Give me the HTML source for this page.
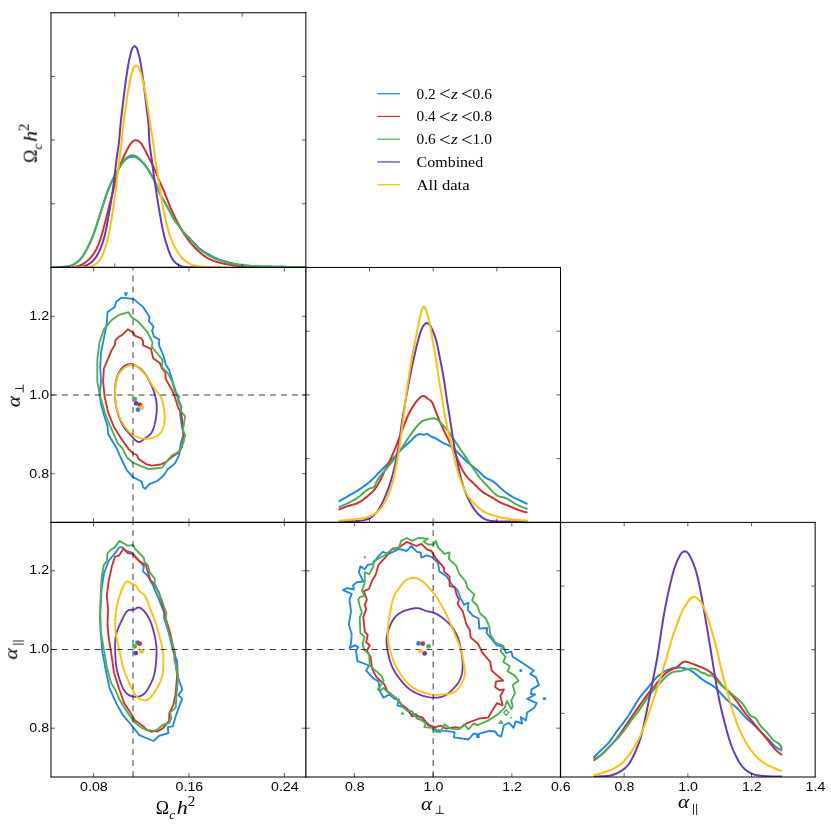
<!DOCTYPE html>
<html lang="en">
<head>
<meta charset="utf-8">
<title>Triangle plot</title>
<style>
html,body{margin:0;padding:0;background:#ffffff;}
body{width:831px;height:827px;overflow:hidden;font-family:"Liberation Sans",sans-serif;}
svg{display:block;will-change:transform;}
svg text{will-change:transform;}
</style>
</head>
<body>
<svg width="831" height="827" viewBox="0 0 831 827">
<rect x="0" y="0" width="831" height="827" fill="#ffffff"/>
<defs>
<clipPath id="cp00"><rect x="51" y="12.75" width="254.85" height="254.7"/></clipPath>
<clipPath id="cp10"><rect x="51" y="267.45" width="254.85" height="254.95"/></clipPath>
<clipPath id="cp11"><rect x="305.85" y="267.45" width="254.65" height="254.95"/></clipPath>
<clipPath id="cp20"><rect x="51" y="522.4" width="254.85" height="254.6"/></clipPath>
<clipPath id="cp21"><rect x="305.85" y="522.4" width="254.65" height="254.6"/></clipPath>
<clipPath id="cp22"><rect x="560.5" y="522.4" width="254.65" height="254.6"/></clipPath>
</defs>
<g clip-path="url(#cp00)" fill="none" stroke-width="2.0" stroke-linejoin="round" stroke-linecap="butt">
<path d="M52 267.4 L53.5 267.31 L55.01 267.22 L56.52 267.14 L58.03 267.06 L59.55 267 L61.07 266.96 L62.6 266.92 L64.13 266.85 L65.65 266.74 L67.15 266.58 L68.64 266.33 L70.1 265.98 L71.53 265.51 L72.92 264.92 L74.27 264.22 L75.57 263.41 L76.81 262.52 L78 261.55 L79.11 260.51 L80.16 259.41 L81.14 258.26 L82.07 257.06 L82.95 255.83 L83.78 254.56 L84.57 253.26 L85.34 251.94 L86.07 250.61 L86.79 249.26 L87.49 247.92 L88.17 246.56 L88.84 245.2 L89.49 243.83 L90.12 242.46 L90.74 241.08 L91.34 239.69 L91.92 238.3 L92.49 236.9 L93.04 235.5 L93.58 234.09 L94.1 232.67 L94.61 231.25 L95.1 229.82 L95.58 228.39 L96.06 226.95 L96.52 225.51 L96.98 224.07 L97.44 222.63 L97.89 221.18 L98.34 219.74 L98.8 218.29 L99.25 216.85 L99.7 215.41 L100.16 213.97 L100.62 212.53 L101.08 211.09 L101.54 209.65 L102 208.21 L102.46 206.77 L102.92 205.33 L103.38 203.89 L103.84 202.45 L104.31 201.01 L104.77 199.57 L105.24 198.13 L105.72 196.69 L106.2 195.26 L106.69 193.83 L107.2 192.41 L107.72 190.99 L108.25 189.57 L108.81 188.17 L109.38 186.77 L109.97 185.38 L110.58 183.99 L111.22 182.62 L111.86 181.25 L112.53 179.89 L113.21 178.54 L113.91 177.2 L114.62 175.86 L115.34 174.53 L116.07 173.21 L116.82 171.89 L117.57 170.58 L118.34 169.28 L119.12 167.99 L119.93 166.71 L120.75 165.44 L121.6 164.18 L122.49 162.95 L123.42 161.75 L124.42 160.61 L125.51 159.56 L126.69 158.6 L127.97 157.79 L129.35 157.16 L130.81 156.76 L132.32 156.58 L133.84 156.63 L135.31 156.96 L136.68 157.58 L137.96 158.41 L139.18 159.35 L140.34 160.35 L141.45 161.37 L142.52 162.44 L143.54 163.54 L144.53 164.68 L145.47 165.86 L146.38 167.06 L147.26 168.3 L148.12 169.55 L148.94 170.83 L149.74 172.12 L150.52 173.42 L151.27 174.73 L152.01 176.05 L152.72 177.39 L153.41 178.74 L154.08 180.09 L154.73 181.46 L155.36 182.84 L155.97 184.22 L156.56 185.61 L157.13 187.02 L157.68 188.43 L158.23 189.84 L158.79 191.24 L159.39 192.63 L160.02 194 L160.71 195.34 L161.43 196.67 L162.18 197.98 L162.94 199.29 L163.72 200.59 L164.5 201.89 L165.27 203.19 L166.03 204.5 L166.78 205.82 L167.51 207.14 L168.23 208.47 L168.94 209.8 L169.63 211.15 L170.33 212.49 L171.02 213.84 L171.73 215.18 L172.46 216.5 L173.21 217.81 L174.01 219.09 L174.85 220.34 L175.72 221.58 L176.61 222.8 L177.51 224.02 L178.41 225.23 L179.31 226.46 L180.19 227.69 L181.09 228.91 L182 230.12 L182.93 231.31 L183.91 232.45 L184.94 233.56 L186.01 234.62 L187.1 235.68 L188.18 236.73 L189.24 237.82 L190.28 238.92 L191.29 240.05 L192.3 241.18 L193.31 242.32 L194.32 243.44 L195.35 244.55 L196.4 245.63 L197.48 246.67 L198.6 247.68 L199.77 248.63 L200.97 249.55 L202.2 250.42 L203.46 251.27 L204.74 252.08 L206.04 252.87 L207.35 253.65 L208.67 254.41 L209.99 255.15 L211.32 255.87 L212.66 256.58 L214.01 257.26 L215.37 257.9 L216.75 258.52 L218.14 259.1 L219.55 259.64 L220.98 260.15 L222.41 260.63 L223.86 261.08 L225.31 261.51 L226.77 261.92 L228.23 262.31 L229.7 262.68 L231.17 263.03 L232.64 263.37 L234.12 263.68 L235.6 263.98 L237.09 264.27 L238.58 264.53 L240.07 264.78 L241.56 265.01 L243.06 265.22 L244.56 265.41 L246.07 265.58 L247.57 265.73 L249.07 265.86 L250.58 265.97 L252.09 266.07 L253.6 266.15 L255.11 266.22 L256.62 266.28 L258.13 266.33 L259.65 266.38 L261.16 266.41 L262.67 266.45 L264.18 266.47 L265.7 266.5 L267.21 266.53 L268.72 266.56 L270.24 266.58 L271.75 266.61 L273.26 266.64 L274.77 266.66 L276.29 266.69 L277.8 266.72 L279.31 266.74 L280.82 266.77 L282.33 266.8 L283.84 266.83 L285.36 266.85 L286.87 266.88 L288.38 266.91 L289.89 266.93 L291.4 266.96 L292.91 266.99 L294.42 267.01 L295.93 267.04 L297.45 267.07 L298.96 267.09 L300.47 267.12 L301.98 267.15 L303.49 267.17 L305 267.2" stroke="#1E88E5"/>
<path d="M56 267.4 L57.5 267.35 L59 267.29 L60.51 267.24 L62.01 267.19 L63.52 267.14 L65.03 267.09 L66.54 267.04 L68.06 267 L69.59 266.95 L71.11 266.89 L72.63 266.8 L74.14 266.67 L75.63 266.47 L77.11 266.19 L78.56 265.81 L79.98 265.33 L81.37 264.74 L82.73 264.06 L84.05 263.3 L85.32 262.45 L86.54 261.54 L87.71 260.56 L88.83 259.53 L89.9 258.45 L90.92 257.32 L91.88 256.15 L92.8 254.95 L93.67 253.7 L94.5 252.43 L95.27 251.13 L96.01 249.8 L96.7 248.46 L97.34 247.09 L97.96 245.71 L98.54 244.32 L99.08 242.91 L99.6 241.49 L100.1 240.07 L100.57 238.63 L101.03 237.19 L101.47 235.74 L101.9 234.29 L102.32 232.84 L102.74 231.38 L103.14 229.93 L103.54 228.47 L103.93 227.02 L104.32 225.56 L104.7 224.1 L105.08 222.64 L105.45 221.18 L105.82 219.72 L106.19 218.25 L106.55 216.79 L106.91 215.33 L107.27 213.86 L107.63 212.4 L107.99 210.93 L108.35 209.47 L108.72 208 L109.08 206.54 L109.45 205.07 L109.82 203.61 L110.19 202.15 L110.57 200.69 L110.95 199.23 L111.33 197.77 L111.71 196.31 L112.09 194.85 L112.47 193.39 L112.84 191.93 L113.21 190.46 L113.57 189 L113.92 187.53 L114.27 186.06 L114.6 184.59 L114.93 183.11 L115.27 181.64 L115.6 180.17 L115.95 178.7 L116.3 177.23 L116.67 175.77 L117.06 174.31 L117.46 172.86 L117.9 171.42 L118.35 169.98 L118.84 168.55 L119.35 167.13 L119.88 165.72 L120.43 164.31 L121 162.91 L121.59 161.52 L122.19 160.13 L122.8 158.75 L123.43 157.38 L124.06 156.01 L124.7 154.64 L125.35 153.28 L126.01 151.93 L126.68 150.58 L127.38 149.25 L128.1 147.92 L128.85 146.6 L129.63 145.29 L130.45 144.01 L131.37 142.81 L132.44 141.74 L133.7 140.86 L135.13 140.3 L136.62 140.25 L138.07 140.74 L139.37 141.58 L140.47 142.62 L141.41 143.8 L142.24 145.08 L143.02 146.39 L143.76 147.71 L144.47 149.04 L145.16 150.38 L145.83 151.73 L146.5 153.08 L147.17 154.43 L147.84 155.78 L148.52 157.12 L149.22 158.46 L149.92 159.8 L150.62 161.13 L151.32 162.47 L152.01 163.81 L152.7 165.16 L153.37 166.51 L154.02 167.87 L154.66 169.24 L155.27 170.62 L155.85 172.01 L156.41 173.41 L156.95 174.82 L157.48 176.23 L158.01 177.65 L158.55 179.05 L159.12 180.45 L159.71 181.84 L160.33 183.22 L160.97 184.58 L161.61 185.95 L162.25 187.31 L162.87 188.69 L163.47 190.07 L164.06 191.46 L164.63 192.86 L165.19 194.26 L165.75 195.66 L166.3 197.07 L166.84 198.48 L167.39 199.88 L167.94 201.29 L168.49 202.69 L169.05 204.09 L169.62 205.49 L170.21 206.88 L170.8 208.27 L171.41 209.65 L172.02 211.02 L172.65 212.4 L173.29 213.76 L173.93 215.13 L174.59 216.49 L175.25 217.84 L175.93 219.19 L176.61 220.54 L177.3 221.88 L178.01 223.22 L178.72 224.56 L179.43 225.89 L180.16 227.21 L180.9 228.54 L181.65 229.85 L182.41 231.16 L183.19 232.45 L183.98 233.74 L184.79 235.01 L185.62 236.27 L186.47 237.52 L187.35 238.74 L188.24 239.96 L189.16 241.15 L190.1 242.33 L191.07 243.48 L192.06 244.62 L193.07 245.74 L194.1 246.85 L195.15 247.93 L196.22 249 L197.31 250.06 L198.41 251.1 L199.54 252.12 L200.68 253.12 L201.84 254.09 L203.03 255.03 L204.24 255.93 L205.49 256.78 L206.76 257.59 L208.06 258.34 L209.4 259.04 L210.76 259.68 L212.15 260.28 L213.56 260.82 L214.99 261.33 L216.43 261.8 L217.88 262.24 L219.33 262.65 L220.79 263.03 L222.26 263.39 L223.73 263.72 L225.21 264.03 L226.69 264.32 L228.17 264.59 L229.66 264.85 L231.15 265.09 L232.64 265.3 L234.14 265.5 L235.64 265.68 L237.14 265.85 L238.64 265.99 L240.14 266.11 L241.65 266.23 L243.15 266.33 L244.66 266.41 L246.17 266.49 L247.67 266.57 L249.18 266.63 L250.69 266.69 L252.2 266.75 L253.71 266.79 L255.21 266.84 L256.72 266.88 L258.23 266.91 L259.74 266.95 L261.25 266.98 L262.76 267 L264.26 267.03 L265.77 267.05 L267.28 267.07 L268.79 267.09 L270.3 267.1 L271.81 267.12 L273.32 267.14 L274.83 267.15 L276.34 267.17 L277.84 267.18 L279.35 267.2 L280.86 267.21 L282.37 267.23 L283.88 267.24 L285.39 267.25 L286.9 267.26 L288.4 267.28 L289.91 267.29 L291.42 267.3 L292.93 267.31 L294.44 267.32 L295.95 267.34 L297.46 267.35 L298.97 267.36 L300.47 267.37 L301.98 267.38 L303.49 267.39 L305 267.4" stroke="#D32F2F"/>
<path d="M52 267.4 L53.5 267.31 L55 267.22 L56.5 267.14 L58.01 267.06 L59.53 267.01 L61.05 266.96 L62.58 266.92 L64.1 266.85 L65.61 266.75 L67.12 266.58 L68.6 266.34 L70.05 265.99 L71.48 265.53 L72.87 264.94 L74.22 264.24 L75.52 263.45 L76.76 262.56 L77.95 261.59 L79.06 260.56 L80.11 259.46 L81.09 258.32 L82.02 257.13 L82.9 255.9 L83.73 254.63 L84.53 253.34 L85.29 252.03 L86.02 250.7 L86.74 249.36 L87.44 248.01 L88.12 246.66 L88.79 245.3 L89.44 243.94 L90.07 242.57 L90.69 241.2 L91.29 239.81 L91.87 238.43 L92.44 237.03 L92.99 235.63 L93.53 234.22 L94.05 232.81 L94.56 231.39 L95.05 229.97 L95.53 228.54 L96 227.11 L96.47 225.67 L96.93 224.23 L97.39 222.79 L97.84 221.35 L98.29 219.91 L98.74 218.47 L99.19 217.04 L99.65 215.6 L100.1 214.16 L100.56 212.72 L101.02 211.29 L101.48 209.85 L101.94 208.41 L102.39 206.98 L102.85 205.54 L103.31 204.1 L103.77 202.67 L104.23 201.23 L104.7 199.79 L105.16 198.36 L105.63 196.92 L106.11 195.49 L106.6 194.06 L107.11 192.64 L107.62 191.23 L108.15 189.82 L108.71 188.41 L109.28 187.02 L109.87 185.63 L110.48 184.25 L111.11 182.88 L111.76 181.52 L112.43 180.17 L113.1 178.82 L113.8 177.48 L114.5 176.14 L115.22 174.81 L115.94 173.49 L116.67 172.17 L117.41 170.85 L118.15 169.54 L118.91 168.23 L119.68 166.94 L120.46 165.65 L121.26 164.37 L122.09 163.1 L122.95 161.86 L123.86 160.66 L124.83 159.5 L125.88 158.41 L127.02 157.4 L128.27 156.53 L129.61 155.85 L131.06 155.43 L132.57 155.28 L134.08 155.44 L135.51 155.91 L136.81 156.66 L138.01 157.6 L139.15 158.64 L140.24 159.7 L141.3 160.78 L142.32 161.88 L143.31 163.01 L144.26 164.17 L145.19 165.35 L146.09 166.56 L146.96 167.8 L147.8 169.05 L148.63 170.32 L149.43 171.6 L150.2 172.9 L150.96 174.21 L151.7 175.53 L152.42 176.85 L153.12 178.19 L153.79 179.54 L154.45 180.9 L155.09 182.27 L155.71 183.64 L156.31 185.03 L156.89 186.42 L157.45 187.83 L158 189.23 L158.55 190.64 L159.13 192.03 L159.74 193.4 L160.4 194.75 L161.11 196.09 L161.84 197.4 L162.6 198.71 L163.37 200.01 L164.15 201.3 L164.92 202.6 L165.69 203.9 L166.44 205.21 L167.17 206.53 L167.9 207.85 L168.61 209.18 L169.31 210.52 L170 211.86 L170.69 213.2 L171.39 214.54 L172.1 215.87 L172.84 217.18 L173.62 218.47 L174.44 219.73 L175.3 220.97 L176.18 222.2 L177.07 223.41 L177.97 224.63 L178.86 225.85 L179.74 227.08 L180.61 228.32 L181.48 229.55 L182.38 230.76 L183.31 231.95 L184.28 233.09 L185.31 234.19 L186.37 235.26 L187.44 236.33 L188.5 237.4 L189.54 238.5 L190.55 239.63 L191.55 240.77 L192.53 241.91 L193.52 243.06 L194.51 244.19 L195.53 245.31 L196.56 246.4 L197.63 247.46 L198.73 248.48 L199.88 249.45 L201.06 250.38 L202.28 251.27 L203.52 252.13 L204.79 252.96 L206.08 253.77 L207.38 254.55 L208.68 255.31 L210 256.06 L211.33 256.78 L212.67 257.47 L214.03 258.14 L215.4 258.76 L216.78 259.35 L218.18 259.9 L219.6 260.4 L221.04 260.87 L222.48 261.31 L223.94 261.71 L225.4 262.09 L226.87 262.45 L228.34 262.79 L229.82 263.11 L231.29 263.42 L232.77 263.71 L234.26 263.98 L235.74 264.24 L237.23 264.48 L238.72 264.71 L240.22 264.92 L241.71 265.11 L243.21 265.29 L244.71 265.45 L246.21 265.59 L247.71 265.72 L249.22 265.84 L250.72 265.94 L252.23 266.03 L253.73 266.11 L255.24 266.18 L256.75 266.25 L258.25 266.3 L259.76 266.35 L261.27 266.39 L262.78 266.43 L264.29 266.47 L265.8 266.5 L267.3 266.54 L268.81 266.57 L270.32 266.6 L271.83 266.63 L273.34 266.67 L274.84 266.7 L276.35 266.72 L277.86 266.75 L279.37 266.78 L280.88 266.81 L282.38 266.84 L283.89 266.86 L285.4 266.89 L286.91 266.91 L288.42 266.94 L289.92 266.96 L291.43 266.99 L292.94 267.01 L294.45 267.04 L295.95 267.06 L297.46 267.08 L298.97 267.11 L300.48 267.13 L301.98 267.15 L303.49 267.18 L305 267.2" stroke="#4CAF50"/>
<path d="M60 267.4 L61.5 267.36 L63 267.32 L64.5 267.28 L66 267.24 L67.5 267.2 L69 267.16 L70.51 267.12 L72.02 267.08 L73.54 267.04 L75.06 267 L76.58 266.95 L78.1 266.89 L79.61 266.79 L81.11 266.63 L82.6 266.39 L84.06 266.05 L85.49 265.6 L86.88 265.02 L88.24 264.34 L89.54 263.54 L90.78 262.66 L91.96 261.69 L93.06 260.64 L94.08 259.53 L95.04 258.37 L95.93 257.14 L96.75 255.88 L97.53 254.57 L98.25 253.24 L98.93 251.88 L99.58 250.5 L100.19 249.11 L100.77 247.71 L101.32 246.3 L101.85 244.89 L102.35 243.47 L102.83 242.04 L103.28 240.6 L103.71 239.16 L104.12 237.71 L104.51 236.26 L104.88 234.8 L105.23 233.34 L105.56 231.87 L105.89 230.4 L106.19 228.92 L106.49 227.45 L106.77 225.97 L107.05 224.49 L107.32 223 L107.59 221.52 L107.85 220.04 L108.11 218.55 L108.37 217.07 L108.63 215.58 L108.89 214.1 L109.14 212.62 L109.4 211.13 L109.66 209.65 L109.91 208.16 L110.16 206.68 L110.42 205.2 L110.66 203.71 L110.91 202.22 L111.16 200.74 L111.4 199.25 L111.64 197.77 L111.87 196.28 L112.1 194.79 L112.33 193.3 L112.55 191.81 L112.77 190.32 L112.98 188.83 L113.18 187.34 L113.38 185.84 L113.57 184.35 L113.76 182.86 L113.94 181.36 L114.12 179.86 L114.29 178.37 L114.47 176.87 L114.64 175.38 L114.81 173.88 L114.99 172.38 L115.16 170.89 L115.34 169.39 L115.52 167.9 L115.7 166.4 L115.88 164.91 L116.07 163.41 L116.26 161.92 L116.46 160.43 L116.66 158.93 L116.86 157.44 L117.07 155.95 L117.28 154.46 L117.49 152.97 L117.7 151.48 L117.92 149.98 L118.13 148.49 L118.34 147 L118.54 145.51 L118.73 144.01 L118.92 142.52 L119.09 141.02 L119.25 139.53 L119.39 138.03 L119.53 136.53 L119.66 135.03 L119.78 133.53 L119.89 132.03 L120.01 130.52 L120.13 129.02 L120.25 127.52 L120.38 126.02 L120.51 124.52 L120.66 123.02 L120.81 121.52 L120.98 120.03 L121.15 118.53 L121.32 117.03 L121.5 115.54 L121.68 114.04 L121.87 112.55 L122.05 111.05 L122.23 109.56 L122.41 108.06 L122.59 106.57 L122.77 105.07 L122.95 103.58 L123.12 102.08 L123.3 100.59 L123.48 99.09 L123.66 97.59 L123.84 96.1 L124.02 94.61 L124.2 93.11 L124.39 91.62 L124.58 90.12 L124.77 88.63 L124.96 87.14 L125.16 85.64 L125.36 84.15 L125.56 82.66 L125.77 81.16 L125.98 79.67 L126.19 78.18 L126.41 76.69 L126.63 75.2 L126.85 73.71 L127.08 72.22 L127.31 70.73 L127.54 69.24 L127.78 67.76 L128.03 66.28 L128.28 64.8 L128.54 63.32 L128.81 61.84 L129.1 60.36 L129.42 58.88 L129.75 57.4 L130.1 55.91 L130.48 54.43 L130.87 52.98 L131.26 51.55 L131.67 50.16 L132.19 48.79 L132.97 47.38 L134.09 46.17 L135.33 46.27 L136.4 47.55 L137.14 48.96 L137.62 50.33 L138.02 51.73 L138.41 53.16 L138.79 54.62 L139.15 56.1 L139.5 57.59 L139.82 59.08 L140.12 60.56 L140.41 62.04 L140.68 63.52 L140.93 65 L141.18 66.48 L141.41 67.96 L141.65 69.45 L141.88 70.93 L142.1 72.42 L142.32 73.91 L142.54 75.4 L142.76 76.89 L142.97 78.39 L143.18 79.88 L143.38 81.37 L143.58 82.87 L143.78 84.36 L143.98 85.85 L144.17 87.35 L144.36 88.84 L144.55 90.33 L144.73 91.83 L144.92 93.32 L145.09 94.82 L145.27 96.31 L145.44 97.81 L145.62 99.3 L145.79 100.8 L145.96 102.3 L146.13 103.79 L146.31 105.29 L146.48 106.78 L146.66 108.28 L146.84 109.78 L147.03 111.27 L147.22 112.77 L147.41 114.26 L147.6 115.76 L147.78 117.25 L147.96 118.75 L148.12 120.24 L148.27 121.74 L148.41 123.24 L148.53 124.74 L148.63 126.24 L148.72 127.75 L148.79 129.25 L148.85 130.76 L148.91 132.26 L148.97 133.77 L149.03 135.27 L149.1 136.78 L149.18 138.28 L149.28 139.78 L149.4 141.28 L149.54 142.78 L149.7 144.28 L149.87 145.78 L150.05 147.27 L150.24 148.76 L150.44 150.26 L150.65 151.75 L150.86 153.24 L151.07 154.74 L151.27 156.23 L151.48 157.72 L151.68 159.22 L151.88 160.71 L152.07 162.2 L152.27 163.69 L152.47 165.19 L152.66 166.68 L152.86 168.17 L153.06 169.66 L153.27 171.16 L153.47 172.65 L153.68 174.14 L153.9 175.63 L154.11 177.12 L154.33 178.61 L154.55 180.1 L154.77 181.59 L154.99 183.08 L155.21 184.57 L155.43 186.06 L155.65 187.55 L155.87 189.04 L156.1 190.53 L156.32 192.02 L156.54 193.51 L156.77 195 L156.99 196.49 L157.22 197.98 L157.45 199.46 L157.69 200.95 L157.93 202.44 L158.17 203.92 L158.41 205.41 L158.66 206.89 L158.91 208.38 L159.17 209.86 L159.43 211.34 L159.68 212.83 L159.94 214.31 L160.21 215.8 L160.47 217.28 L160.73 218.77 L160.99 220.25 L161.25 221.74 L161.52 223.22 L161.79 224.71 L162.07 226.19 L162.36 227.67 L162.65 229.14 L162.96 230.62 L163.28 232.09 L163.62 233.55 L163.97 235.01 L164.34 236.46 L164.73 237.91 L165.13 239.35 L165.55 240.79 L165.98 242.23 L166.42 243.67 L166.87 245.11 L167.34 246.55 L167.82 247.99 L168.3 249.43 L168.8 250.87 L169.31 252.31 L169.85 253.75 L170.43 255.16 L171.07 256.54 L171.76 257.87 L172.53 259.16 L173.39 260.4 L174.35 261.56 L175.42 262.64 L176.58 263.63 L177.83 264.51 L179.14 265.27 L180.52 265.89 L181.95 266.37 L183.41 266.7 L184.9 266.93 L186.41 267.07 L187.93 267.14 L189.45 267.19 L190.97 267.22 L192.49 267.25 L194 267.28 L195.5 267.31 L197 267.34 L198.5 267.37 L200 267.4" stroke="#673AB7"/>
<path d="M70 267.4 L71.5 267.35 L72.99 267.31 L74.49 267.26 L75.99 267.22 L77.5 267.17 L79 267.13 L80.52 267.09 L82.04 267.05 L83.57 267.01 L85.11 266.97 L86.64 266.91 L88.17 266.8 L89.67 266.61 L91.14 266.3 L92.56 265.85 L93.93 265.24 L95.23 264.46 L96.45 263.55 L97.6 262.52 L98.65 261.41 L99.61 260.22 L100.48 258.98 L101.26 257.68 L101.96 256.34 L102.61 254.97 L103.2 253.57 L103.74 252.15 L104.25 250.72 L104.74 249.28 L105.21 247.83 L105.67 246.39 L106.1 244.94 L106.52 243.49 L106.93 242.04 L107.31 240.58 L107.69 239.12 L108.04 237.66 L108.38 236.19 L108.71 234.72 L109.02 233.25 L109.32 231.77 L109.61 230.29 L109.89 228.81 L110.15 227.32 L110.41 225.83 L110.67 224.34 L110.91 222.85 L111.16 221.36 L111.4 219.87 L111.64 218.38 L111.87 216.89 L112.11 215.4 L112.35 213.91 L112.58 212.42 L112.81 210.93 L113.04 209.43 L113.27 207.94 L113.49 206.45 L113.71 204.96 L113.92 203.46 L114.13 201.97 L114.33 200.48 L114.53 198.98 L114.73 197.48 L114.92 195.99 L115.11 194.49 L115.29 192.99 L115.48 191.49 L115.66 190 L115.84 188.5 L116.02 187 L116.21 185.5 L116.39 184 L116.57 182.5 L116.75 181.01 L116.93 179.51 L117.11 178.01 L117.29 176.51 L117.47 175.01 L117.65 173.51 L117.83 172.02 L118 170.52 L118.18 169.02 L118.36 167.52 L118.53 166.02 L118.71 164.52 L118.89 163.02 L119.07 161.53 L119.26 160.03 L119.44 158.53 L119.63 157.03 L119.82 155.54 L120.02 154.04 L120.21 152.54 L120.41 151.05 L120.61 149.55 L120.81 148.06 L121.01 146.56 L121.2 145.06 L121.38 143.56 L121.56 142.07 L121.74 140.57 L121.9 139.07 L122.06 137.57 L122.21 136.06 L122.35 134.56 L122.5 133.06 L122.64 131.56 L122.78 130.06 L122.93 128.55 L123.08 127.05 L123.24 125.55 L123.41 124.05 L123.58 122.55 L123.77 121.06 L123.96 119.56 L124.16 118.06 L124.36 116.57 L124.57 115.07 L124.78 113.58 L124.99 112.08 L125.2 110.59 L125.41 109.09 L125.62 107.6 L125.84 106.11 L126.05 104.61 L126.26 103.12 L126.48 101.63 L126.7 100.13 L126.92 98.64 L127.14 97.15 L127.37 95.66 L127.61 94.16 L127.85 92.67 L128.09 91.18 L128.34 89.7 L128.6 88.21 L128.86 86.72 L129.13 85.24 L129.41 83.76 L129.69 82.27 L129.99 80.79 L130.29 79.32 L130.61 77.84 L130.95 76.37 L131.32 74.91 L131.71 73.45 L132.14 71.99 L132.6 70.56 L133.12 69.14 L133.7 67.75 L134.44 66.44 L135.62 65.42 L137.03 65.61 L138.15 66.71 L138.9 68 L139.53 69.36 L140.09 70.76 L140.6 72.19 L141.06 73.64 L141.49 75.09 L141.9 76.54 L142.27 78 L142.63 79.47 L142.96 80.94 L143.29 82.41 L143.61 83.89 L143.91 85.36 L144.21 86.84 L144.5 88.32 L144.79 89.8 L145.07 91.29 L145.34 92.77 L145.61 94.26 L145.87 95.75 L146.13 97.23 L146.38 98.72 L146.64 100.21 L146.88 101.7 L147.13 103.19 L147.37 104.68 L147.6 106.17 L147.83 107.66 L148.06 109.15 L148.28 110.64 L148.5 112.13 L148.72 113.63 L148.94 115.12 L149.15 116.61 L149.37 118.11 L149.59 119.6 L149.81 121.09 L150.03 122.59 L150.26 124.08 L150.5 125.57 L150.74 127.06 L150.98 128.55 L151.22 130.04 L151.47 131.53 L151.72 133.02 L151.96 134.51 L152.2 136 L152.43 137.49 L152.65 138.98 L152.87 140.47 L153.07 141.97 L153.27 143.46 L153.46 144.96 L153.64 146.46 L153.83 147.96 L154.01 149.45 L154.19 150.95 L154.38 152.45 L154.57 153.95 L154.77 155.44 L154.97 156.94 L155.18 158.43 L155.4 159.93 L155.63 161.42 L155.86 162.91 L156.09 164.4 L156.33 165.89 L156.56 167.38 L156.8 168.87 L157.04 170.36 L157.27 171.85 L157.5 173.34 L157.73 174.84 L157.96 176.33 L158.18 177.82 L158.41 179.31 L158.63 180.8 L158.86 182.3 L159.08 183.79 L159.31 185.28 L159.53 186.77 L159.76 188.27 L159.99 189.76 L160.23 191.25 L160.47 192.74 L160.71 194.23 L160.95 195.72 L161.2 197.21 L161.45 198.69 L161.71 200.18 L161.98 201.67 L162.25 203.15 L162.52 204.63 L162.81 206.12 L163.09 207.6 L163.39 209.08 L163.69 210.56 L163.99 212.03 L164.3 213.51 L164.61 214.99 L164.93 216.46 L165.25 217.94 L165.58 219.41 L165.91 220.89 L166.25 222.36 L166.59 223.83 L166.95 225.3 L167.32 226.76 L167.7 228.22 L168.1 229.68 L168.51 231.13 L168.95 232.57 L169.41 234.01 L169.89 235.44 L170.39 236.87 L170.92 238.28 L171.47 239.69 L172.05 241.09 L172.65 242.47 L173.28 243.85 L173.93 245.21 L174.61 246.56 L175.32 247.9 L176.05 249.22 L176.81 250.53 L177.6 251.82 L178.43 253.09 L179.28 254.34 L180.18 255.55 L181.13 256.73 L182.12 257.87 L183.16 258.97 L184.26 260.02 L185.42 261 L186.62 261.92 L187.89 262.74 L189.21 263.48 L190.58 264.11 L191.99 264.66 L193.43 265.12 L194.9 265.51 L196.38 265.84 L197.87 266.1 L199.37 266.32 L200.87 266.48 L202.37 266.62 L203.88 266.72 L205.39 266.8 L206.9 266.87 L208.41 266.92 L209.92 266.98 L211.43 267.03 L212.94 267.08 L214.44 267.12 L215.95 267.17 L217.46 267.21 L218.97 267.25 L220.48 267.29 L221.98 267.32 L223.49 267.36 L225 267.4" stroke="#FFC107"/>
</g>
<g clip-path="url(#cp11)" fill="none" stroke-width="2.0" stroke-linejoin="round" stroke-linecap="butt">
<path d="M338.6 501.6 L339.83 500.88 L341.05 500.16 L342.28 499.44 L343.5 498.72 L344.73 498.01 L345.96 497.3 L347.19 496.58 L348.42 495.88 L349.65 495.17 L350.89 494.47 L352.12 493.76 L353.35 493.05 L354.58 492.34 L355.8 491.62 L357.02 490.89 L358.23 490.14 L359.44 489.38 L360.63 488.6 L361.81 487.81 L362.98 487 L364.14 486.17 L365.28 485.33 L366.41 484.46 L367.53 483.58 L368.63 482.68 L369.71 481.76 L370.77 480.81 L371.82 479.85 L372.85 478.87 L373.86 477.88 L374.87 476.87 L375.86 475.86 L376.85 474.84 L377.84 473.82 L378.83 472.8 L379.83 471.78 L380.82 470.77 L381.83 469.77 L382.84 468.77 L383.86 467.78 L384.87 466.79 L385.89 465.8 L386.9 464.8 L387.92 463.81 L388.93 462.81 L389.93 461.8 L390.92 460.78 L391.91 459.76 L392.88 458.72 L393.85 457.67 L394.8 456.61 L395.75 455.54 L396.7 454.47 L397.64 453.41 L398.6 452.35 L399.56 451.31 L400.53 450.28 L401.52 449.27 L402.52 448.29 L403.55 447.33 L404.59 446.39 L405.64 445.46 L406.71 444.53 L407.77 443.59 L408.83 442.64 L409.88 441.67 L410.93 440.68 L411.96 439.64 L412.97 438.57 L414 437.51 L415.05 436.51 L416.16 435.62 L417.35 434.88 L418.65 434.35 L420.05 434.07 L421.48 434.19 L422.85 434.68 L424.22 434.7 L425.59 434.11 L426.9 433.81 L428.1 434.34 L429.28 435.32 L430.5 436.22 L431.81 436.82 L433.14 437.27 L434.46 437.76 L435.73 438.36 L436.98 439.05 L438.2 439.81 L439.4 440.6 L440.58 441.4 L441.77 442.17 L442.99 442.89 L444.26 443.52 L445.57 444.09 L446.89 444.63 L448.2 445.19 L449.48 445.79 L450.71 446.49 L451.88 447.29 L452.99 448.18 L454.06 449.12 L455.11 450.1 L456.14 451.09 L457.15 452.08 L458.16 453.08 L459.17 454.08 L460.17 455.08 L461.18 456.08 L462.19 457.08 L463.21 458.07 L464.24 459.06 L465.27 460.03 L466.31 461 L467.36 461.96 L468.43 462.9 L469.5 463.83 L470.59 464.74 L471.69 465.64 L472.8 466.52 L473.91 467.4 L475.02 468.27 L476.13 469.16 L477.23 470.06 L478.32 470.98 L479.38 471.93 L480.42 472.92 L481.44 473.94 L482.45 474.97 L483.48 475.97 L484.55 476.91 L485.68 477.74 L486.89 478.45 L488.18 479.03 L489.51 479.55 L490.82 480.11 L492.07 480.78 L493.25 481.57 L494.39 482.43 L495.49 483.35 L496.56 484.3 L497.61 485.26 L498.66 486.22 L499.7 487.19 L500.75 488.15 L501.8 489.1 L502.87 490.03 L503.95 490.94 L505.06 491.83 L506.19 492.68 L507.35 493.51 L508.53 494.31 L509.72 495.09 L510.93 495.84 L512.16 496.56 L513.4 497.26 L514.66 497.93 L515.92 498.58 L517.19 499.21 L518.47 499.82 L519.76 500.43 L521.05 501.03 L522.34 501.63 L523.63 502.22 L524.92 502.81 L526.21 503.41 L527.5 504" stroke="#1E88E5"/>
<path d="M338.6 509.8 L339.99 509.2 L341.38 508.61 L342.78 508.03 L344.19 507.47 L345.6 506.93 L347.03 506.42 L348.47 505.94 L349.93 505.49 L351.39 505.07 L352.86 504.66 L354.32 504.22 L355.75 503.75 L357.16 503.21 L358.52 502.59 L359.84 501.87 L361.12 501.08 L362.36 500.21 L363.58 499.3 L364.78 498.35 L365.97 497.39 L367.16 496.42 L368.34 495.45 L369.51 494.47 L370.65 493.47 L371.76 492.44 L372.83 491.38 L373.84 490.28 L374.8 489.13 L375.7 487.93 L376.55 486.69 L377.36 485.41 L378.13 484.1 L378.87 482.77 L379.59 481.42 L380.28 480.06 L380.97 478.69 L381.65 477.31 L382.32 475.95 L383 474.58 L383.69 473.22 L384.37 471.87 L385.05 470.51 L385.73 469.16 L386.4 467.81 L387.07 466.46 L387.74 465.1 L388.4 463.74 L389.05 462.38 L389.69 461.02 L390.32 459.65 L390.95 458.27 L391.56 456.89 L392.17 455.5 L392.77 454.11 L393.36 452.72 L393.94 451.32 L394.52 449.92 L395.09 448.51 L395.66 447.11 L396.22 445.7 L396.78 444.29 L397.33 442.88 L397.89 441.47 L398.43 440.06 L398.98 438.64 L399.52 437.23 L400.06 435.82 L400.6 434.4 L401.14 432.99 L401.68 431.58 L402.22 430.16 L402.77 428.75 L403.31 427.34 L403.85 425.92 L404.4 424.51 L404.95 423.1 L405.5 421.69 L406.06 420.28 L406.63 418.87 L407.21 417.47 L407.81 416.08 L408.43 414.7 L409.08 413.33 L409.77 411.99 L410.49 410.66 L411.24 409.34 L412.01 408.04 L412.82 406.75 L413.64 405.48 L414.48 404.21 L415.35 402.96 L416.25 401.74 L417.19 400.56 L418.17 399.41 L419.2 398.32 L420.33 397.31 L421.6 396.41 L423.01 395.9 L424.49 396.19 L425.81 397.05 L426.91 398.09 L428.09 399 L429.43 399.75 L430.68 400.57 L431.68 401.66 L432.46 402.97 L433.08 404.4 L433.64 405.88 L434.18 407.33 L434.72 408.76 L435.26 410.17 L435.79 411.56 L436.33 412.95 L436.88 414.34 L437.43 415.74 L437.99 417.13 L438.56 418.53 L439.14 419.92 L439.73 421.32 L440.33 422.71 L440.94 424.1 L441.56 425.49 L442.18 426.88 L442.82 428.26 L443.46 429.64 L444.11 431.02 L444.77 432.38 L445.44 433.75 L446.12 435.11 L446.8 436.46 L447.48 437.81 L448.16 439.16 L448.84 440.52 L449.52 441.87 L450.2 443.22 L450.87 444.57 L451.53 445.93 L452.19 447.29 L452.83 448.66 L453.47 450.03 L454.1 451.4 L454.72 452.78 L455.34 454.17 L455.95 455.55 L456.55 456.94 L457.16 458.33 L457.75 459.73 L458.35 461.12 L458.95 462.52 L459.55 463.92 L460.17 465.31 L460.8 466.69 L461.46 468.06 L462.14 469.41 L462.86 470.74 L463.62 472.05 L464.42 473.33 L465.28 474.58 L466.18 475.79 L467.14 476.97 L468.14 478.11 L469.18 479.21 L470.25 480.27 L471.35 481.31 L472.46 482.35 L473.56 483.38 L474.66 484.44 L475.74 485.51 L476.82 486.58 L477.91 487.65 L479 488.71 L480.11 489.74 L481.24 490.73 L482.41 491.69 L483.62 492.58 L484.87 493.42 L486.15 494.21 L487.46 494.97 L488.79 495.7 L490.12 496.43 L491.45 497.17 L492.77 497.92 L494.07 498.71 L495.36 499.52 L496.64 500.33 L497.94 501.12 L499.24 501.88 L500.57 502.59 L501.94 503.23 L503.33 503.81 L504.75 504.35 L506.17 504.88 L507.59 505.41 L509.01 505.96 L510.41 506.55 L511.79 507.16 L513.18 507.77 L514.56 508.39 L515.95 508.98 L517.35 509.55 L518.77 510.08 L520.2 510.57 L521.64 511.02 L523.1 511.44 L524.56 511.84 L526.03 512.22 L527.5 512.6" stroke="#D32F2F"/>
<path d="M338.6 507.4 L339.98 506.79 L341.36 506.17 L342.74 505.56 L344.12 504.93 L345.49 504.3 L346.85 503.66 L348.21 503 L349.56 502.33 L350.9 501.64 L352.23 500.93 L353.54 500.2 L354.85 499.44 L356.13 498.65 L357.39 497.83 L358.63 496.96 L359.85 496.05 L361.05 495.1 L362.21 494.09 L363.36 493.06 L364.51 492.03 L365.68 491.03 L366.88 490.1 L368.14 489.26 L369.46 488.56 L370.87 488.02 L372.38 487.66 L373.75 487.15 L374.67 486.04 L375.31 484.57 L375.91 483.03 L376.58 481.58 L377.33 480.2 L378.13 478.9 L378.98 477.65 L379.88 476.45 L380.81 475.29 L381.77 474.16 L382.75 473.04 L383.73 471.93 L384.72 470.82 L385.7 469.7 L386.66 468.56 L387.62 467.4 L388.57 466.23 L389.51 465.05 L390.44 463.86 L391.36 462.66 L392.27 461.45 L393.18 460.23 L394.07 459 L394.96 457.77 L395.83 456.53 L396.7 455.3 L397.57 454.05 L398.42 452.81 L399.27 451.56 L400.11 450.31 L400.95 449.06 L401.79 447.8 L402.62 446.55 L403.46 445.29 L404.29 444.03 L405.12 442.77 L405.95 441.51 L406.79 440.26 L407.63 439 L408.47 437.74 L409.32 436.49 L410.18 435.25 L411.04 434.01 L411.92 432.78 L412.81 431.56 L413.71 430.35 L414.62 429.16 L415.55 427.97 L416.5 426.81 L417.48 425.66 L418.49 424.53 L419.55 423.44 L420.67 422.4 L421.86 421.47 L423.16 420.72 L424.55 420.15 L426.01 419.73 L427.49 419.4 L428.97 419.11 L430.46 418.8 L431.96 418.5 L433.46 418.37 L434.94 418.58 L436.35 419.14 L437.66 419.93 L438.83 420.88 L439.93 421.92 L440.99 423 L442.03 424.1 L443.07 425.2 L444.08 426.32 L445.08 427.45 L446.06 428.6 L447.02 429.76 L447.96 430.94 L448.88 432.13 L449.78 433.35 L450.65 434.57 L451.51 435.81 L452.36 437.06 L453.2 438.32 L454.02 439.58 L454.85 440.85 L455.67 442.12 L456.49 443.38 L457.32 444.65 L458.15 445.91 L458.99 447.17 L459.83 448.42 L460.67 449.68 L461.51 450.93 L462.35 452.18 L463.2 453.43 L464.04 454.68 L464.89 455.93 L465.73 457.18 L466.57 458.43 L467.41 459.68 L468.25 460.93 L469.09 462.18 L469.93 463.44 L470.77 464.69 L471.61 465.95 L472.44 467.21 L473.28 468.48 L474.12 469.74 L474.96 471 L475.81 472.26 L476.67 473.5 L477.55 474.73 L478.45 475.94 L479.36 477.13 L480.3 478.3 L481.26 479.44 L482.24 480.55 L483.25 481.65 L484.27 482.74 L485.3 483.83 L486.35 484.92 L487.4 486.02 L488.45 487.14 L489.5 488.28 L490.54 489.44 L491.6 490.61 L492.66 491.76 L493.76 492.86 L494.9 493.88 L496.09 494.8 L497.34 495.58 L498.67 496.21 L500.09 496.65 L501.56 496.98 L503.05 497.31 L504.5 497.75 L505.9 498.3 L507.27 498.93 L508.6 499.65 L509.9 500.41 L511.19 501.21 L512.46 502.02 L513.75 502.81 L515.04 503.58 L516.36 504.31 L517.71 504.99 L519.07 505.63 L520.45 506.24 L521.84 506.82 L523.25 507.39 L524.66 507.93 L526.08 508.47 L527.5 509" stroke="#4CAF50"/>
<path d="M338.6 521.5 L340.11 521.49 L341.62 521.48 L343.13 521.47 L344.64 521.45 L346.15 521.43 L347.66 521.41 L349.16 521.38 L350.67 521.34 L352.17 521.29 L353.68 521.24 L355.18 521.17 L356.69 521.08 L358.19 520.96 L359.69 520.81 L361.2 520.63 L362.71 520.4 L364.2 520.11 L365.68 519.75 L367.13 519.31 L368.53 518.76 L369.87 518.1 L371.16 517.32 L372.38 516.43 L373.54 515.45 L374.64 514.39 L375.68 513.26 L376.67 512.08 L377.6 510.87 L378.47 509.62 L379.29 508.35 L380.07 507.06 L380.81 505.74 L381.52 504.41 L382.19 503.06 L382.85 501.7 L383.48 500.34 L384.11 498.96 L384.71 497.58 L385.31 496.19 L385.89 494.8 L386.46 493.4 L387.02 492 L387.56 490.59 L388.09 489.18 L388.61 487.76 L389.11 486.34 L389.6 484.91 L390.07 483.48 L390.53 482.04 L390.98 480.6 L391.41 479.15 L391.83 477.7 L392.24 476.25 L392.64 474.8 L393.02 473.34 L393.4 471.87 L393.76 470.41 L394.12 468.94 L394.46 467.47 L394.79 466 L395.12 464.53 L395.44 463.05 L395.75 461.58 L396.05 460.1 L396.34 458.62 L396.62 457.14 L396.9 455.65 L397.17 454.17 L397.43 452.68 L397.69 451.2 L397.94 449.71 L398.19 448.22 L398.43 446.73 L398.66 445.24 L398.89 443.75 L399.12 442.26 L399.34 440.77 L399.56 439.27 L399.77 437.78 L399.99 436.29 L400.2 434.79 L400.41 433.3 L400.62 431.81 L400.83 430.31 L401.04 428.82 L401.26 427.32 L401.47 425.83 L401.69 424.34 L401.9 422.85 L402.13 421.35 L402.35 419.86 L402.58 418.37 L402.81 416.88 L403.05 415.39 L403.29 413.9 L403.53 412.41 L403.78 410.92 L404.03 409.44 L404.28 407.95 L404.53 406.46 L404.78 404.97 L405.04 403.49 L405.3 402 L405.56 400.52 L405.82 399.03 L406.08 397.54 L406.34 396.06 L406.61 394.57 L406.87 393.09 L407.14 391.6 L407.41 390.12 L407.68 388.64 L407.95 387.15 L408.23 385.67 L408.5 384.19 L408.79 382.7 L409.07 381.22 L409.35 379.74 L409.64 378.26 L409.93 376.78 L410.23 375.3 L410.52 373.82 L410.82 372.34 L411.12 370.86 L411.43 369.39 L411.74 367.91 L412.04 366.43 L412.36 364.96 L412.67 363.48 L412.99 362.01 L413.31 360.53 L413.63 359.06 L413.96 357.59 L414.29 356.12 L414.62 354.64 L414.96 353.17 L415.3 351.7 L415.64 350.23 L415.99 348.77 L416.34 347.3 L416.7 345.83 L417.07 344.37 L417.44 342.91 L417.81 341.45 L418.2 339.99 L418.59 338.53 L418.99 337.08 L419.41 335.63 L419.84 334.19 L420.3 332.75 L420.79 331.32 L421.32 329.9 L421.91 328.51 L422.57 327.15 L423.34 325.85 L424.23 324.62 L425.35 323.6 L426.76 323.01 L428.2 323.37 L429.39 324.36 L430.28 325.58 L431.01 326.91 L431.67 328.27 L432.3 329.64 L432.9 331.03 L433.47 332.42 L434.01 333.83 L434.53 335.25 L435.02 336.67 L435.48 338.11 L435.91 339.56 L436.31 341.01 L436.68 342.47 L437.03 343.94 L437.36 345.41 L437.68 346.89 L437.98 348.37 L438.28 349.85 L438.57 351.33 L438.86 352.81 L439.16 354.29 L439.45 355.77 L439.75 357.25 L440.05 358.73 L440.34 360.21 L440.64 361.69 L440.93 363.17 L441.23 364.65 L441.52 366.13 L441.8 367.61 L442.08 369.09 L442.36 370.57 L442.63 372.06 L442.89 373.54 L443.15 375.03 L443.4 376.52 L443.65 378 L443.89 379.49 L444.13 380.98 L444.36 382.47 L444.58 383.97 L444.8 385.46 L445.01 386.95 L445.23 388.45 L445.44 389.94 L445.65 391.43 L445.86 392.93 L446.08 394.42 L446.3 395.91 L446.52 397.4 L446.75 398.89 L446.98 400.38 L447.22 401.87 L447.46 403.36 L447.7 404.85 L447.95 406.34 L448.19 407.83 L448.43 409.32 L448.68 410.81 L448.92 412.3 L449.17 413.78 L449.4 415.27 L449.64 416.76 L449.87 418.25 L450.11 419.75 L450.33 421.24 L450.56 422.73 L450.78 424.22 L451.01 425.71 L451.23 427.2 L451.46 428.7 L451.68 430.19 L451.91 431.68 L452.14 433.17 L452.37 434.66 L452.6 436.15 L452.84 437.64 L453.08 439.13 L453.33 440.62 L453.58 442.1 L453.84 443.59 L454.11 445.07 L454.37 446.56 L454.65 448.04 L454.92 449.52 L455.21 451.01 L455.49 452.49 L455.78 453.97 L456.07 455.45 L456.36 456.93 L456.66 458.41 L456.95 459.89 L457.25 461.37 L457.55 462.85 L457.85 464.33 L458.15 465.81 L458.45 467.28 L458.76 468.76 L459.08 470.24 L459.4 471.71 L459.73 473.18 L460.07 474.65 L460.42 476.12 L460.79 477.58 L461.17 479.04 L461.56 480.5 L461.98 481.95 L462.41 483.39 L462.85 484.83 L463.32 486.27 L463.8 487.7 L464.3 489.13 L464.81 490.54 L465.35 491.96 L465.9 493.36 L466.47 494.76 L467.06 496.16 L467.68 497.54 L468.31 498.91 L468.97 500.27 L469.65 501.62 L470.36 502.95 L471.09 504.27 L471.86 505.57 L472.66 506.85 L473.49 508.11 L474.35 509.34 L475.26 510.55 L476.2 511.73 L477.18 512.88 L478.21 514 L479.28 515.08 L480.41 516.11 L481.58 517.08 L482.81 517.96 L484.1 518.74 L485.45 519.4 L486.85 519.93 L488.3 520.34 L489.79 520.66 L491.3 520.91 L492.81 521.09 L494.33 521.23 L495.84 521.33 L497.35 521.41 L498.85 521.46 L500.36 521.48 L501.86 521.5 L503.37 521.5 L504.87 521.5 L506.38 521.5 L507.88 521.5 L509.39 521.5 L510.9 521.51 L512.41 521.51 L513.91 521.52 L515.42 521.53 L516.93 521.53 L518.44 521.54 L519.95 521.55 L521.46 521.56 L522.97 521.57 L524.48 521.58 L525.99 521.59 L527.5 521.6" stroke="#673AB7"/>
<path d="M338.6 520.8 L340.1 520.66 L341.6 520.52 L343.1 520.38 L344.6 520.24 L346.1 520.1 L347.6 519.96 L349.11 519.82 L350.61 519.68 L352.1 519.54 L353.6 519.39 L355.1 519.24 L356.6 519.07 L358.1 518.88 L359.59 518.68 L361.08 518.45 L362.57 518.2 L364.06 517.9 L365.53 517.57 L366.99 517.18 L368.44 516.74 L369.86 516.23 L371.25 515.65 L372.61 514.98 L373.94 514.24 L375.22 513.43 L376.45 512.54 L377.62 511.59 L378.74 510.57 L379.78 509.48 L380.77 508.34 L381.69 507.15 L382.57 505.91 L383.39 504.64 L384.18 503.34 L384.93 502.03 L385.65 500.69 L386.34 499.34 L387 497.99 L387.63 496.61 L388.24 495.23 L388.81 493.84 L389.37 492.44 L389.89 491.03 L390.39 489.61 L390.87 488.18 L391.33 486.75 L391.77 485.3 L392.18 483.86 L392.58 482.4 L392.96 480.94 L393.33 479.48 L393.68 478.01 L394.02 476.54 L394.34 475.07 L394.66 473.59 L394.97 472.11 L395.27 470.63 L395.57 469.15 L395.86 467.67 L396.15 466.19 L396.43 464.71 L396.7 463.23 L396.97 461.75 L397.24 460.26 L397.5 458.78 L397.76 457.29 L398.01 455.81 L398.26 454.32 L398.51 452.84 L398.75 451.35 L398.99 449.86 L399.22 448.37 L399.45 446.88 L399.68 445.39 L399.9 443.9 L400.12 442.41 L400.34 440.92 L400.55 439.43 L400.77 437.94 L400.97 436.45 L401.18 434.95 L401.38 433.46 L401.59 431.97 L401.79 430.47 L401.98 428.98 L402.18 427.48 L402.37 425.99 L402.56 424.49 L402.75 423 L402.94 421.5 L403.12 420 L403.31 418.51 L403.49 417.01 L403.67 415.52 L403.86 414.02 L404.04 412.52 L404.22 411.03 L404.4 409.53 L404.58 408.04 L404.76 406.54 L404.95 405.04 L405.13 403.55 L405.31 402.05 L405.5 400.56 L405.69 399.06 L405.88 397.57 L406.07 396.07 L406.26 394.58 L406.46 393.08 L406.66 391.59 L406.86 390.09 L407.07 388.6 L407.27 387.11 L407.49 385.62 L407.7 384.12 L407.92 382.63 L408.14 381.14 L408.37 379.65 L408.6 378.16 L408.84 376.67 L409.07 375.18 L409.31 373.7 L409.55 372.21 L409.79 370.72 L410.03 369.23 L410.28 367.75 L410.52 366.26 L410.76 364.77 L411.01 363.29 L411.25 361.8 L411.5 360.32 L411.76 358.83 L412.01 357.34 L412.28 355.86 L412.55 354.38 L412.82 352.89 L413.1 351.41 L413.39 349.92 L413.68 348.44 L413.98 346.96 L414.28 345.48 L414.58 344 L414.88 342.53 L415.18 341.05 L415.48 339.58 L415.78 338.12 L416.07 336.65 L416.36 335.19 L416.66 333.72 L416.95 332.26 L417.24 330.78 L417.53 329.31 L417.83 327.82 L418.13 326.33 L418.43 324.83 L418.74 323.32 L419.05 321.79 L419.37 320.28 L419.69 318.78 L420 317.3 L420.31 315.87 L420.6 314.49 L420.9 313.15 L421.24 311.77 L421.68 310.26 L422.28 308.51 L423.07 306.98 L424.02 306.71 L425.03 307.92 L425.82 309.49 L426.34 310.91 L426.74 312.27 L427.13 313.66 L427.54 315.1 L427.96 316.58 L428.37 318.06 L428.75 319.53 L429.12 320.99 L429.46 322.45 L429.78 323.91 L430.09 325.38 L430.38 326.86 L430.66 328.33 L430.93 329.82 L431.19 331.3 L431.45 332.79 L431.7 334.28 L431.94 335.77 L432.19 337.26 L432.44 338.75 L432.69 340.24 L432.95 341.72 L433.21 343.21 L433.47 344.69 L433.73 346.18 L433.98 347.66 L434.24 349.15 L434.5 350.63 L434.75 352.12 L435 353.6 L435.25 355.09 L435.49 356.57 L435.73 358.06 L435.97 359.55 L436.2 361.04 L436.43 362.53 L436.66 364.02 L436.89 365.51 L437.11 367 L437.33 368.49 L437.56 369.98 L437.78 371.47 L438 372.96 L438.22 374.45 L438.44 375.95 L438.67 377.44 L438.9 378.93 L439.13 380.41 L439.37 381.9 L439.61 383.39 L439.85 384.88 L440.1 386.36 L440.35 387.85 L440.6 389.34 L440.85 390.82 L441.1 392.31 L441.35 393.8 L441.59 395.28 L441.83 396.77 L442.06 398.26 L442.29 399.75 L442.51 401.24 L442.73 402.73 L442.95 404.22 L443.18 405.72 L443.4 407.21 L443.64 408.7 L443.87 410.18 L444.12 411.67 L444.37 413.16 L444.63 414.64 L444.91 416.12 L445.2 417.6 L445.49 419.08 L445.8 420.55 L446.11 422.03 L446.43 423.5 L446.76 424.97 L447.1 426.44 L447.44 427.91 L447.78 429.38 L448.12 430.84 L448.47 432.31 L448.82 433.78 L449.17 435.25 L449.51 436.71 L449.86 438.18 L450.2 439.65 L450.54 441.12 L450.88 442.58 L451.22 444.05 L451.55 445.52 L451.88 446.99 L452.21 448.46 L452.54 449.93 L452.87 451.4 L453.2 452.88 L453.52 454.35 L453.85 455.82 L454.17 457.3 L454.5 458.77 L454.83 460.24 L455.16 461.71 L455.5 463.18 L455.85 464.65 L456.21 466.12 L456.59 467.58 L456.97 469.03 L457.37 470.48 L457.79 471.93 L458.23 473.37 L458.68 474.8 L459.16 476.23 L459.66 477.65 L460.17 479.07 L460.7 480.48 L461.24 481.89 L461.8 483.29 L462.37 484.69 L462.95 486.08 L463.55 487.48 L464.16 488.86 L464.79 490.24 L465.45 491.59 L466.14 492.93 L466.88 494.24 L467.65 495.53 L468.48 496.78 L469.36 498 L470.28 499.19 L471.24 500.35 L472.23 501.49 L473.26 502.61 L474.31 503.71 L475.38 504.78 L476.47 505.84 L477.58 506.88 L478.71 507.89 L479.87 508.86 L481.07 509.78 L482.3 510.64 L483.57 511.44 L484.88 512.17 L486.23 512.83 L487.61 513.43 L489.02 513.99 L490.45 514.5 L491.89 514.98 L493.33 515.43 L494.78 515.87 L496.23 516.28 L497.69 516.68 L499.15 517.05 L500.61 517.4 L502.08 517.73 L503.56 518.03 L505.03 518.31 L506.52 518.57 L508.01 518.81 L509.5 519.03 L510.99 519.24 L512.49 519.43 L513.99 519.6 L515.49 519.76 L516.99 519.91 L518.49 520.06 L519.99 520.19 L521.49 520.32 L522.99 520.45 L524.5 520.57 L526 520.68 L527.5 520.8" stroke="#FFC107"/>
</g>
<g clip-path="url(#cp22)" fill="none" stroke-width="2.0" stroke-linejoin="round" stroke-linecap="butt">
<path d="M593.6 757.7 L594.65 756.62 L595.71 755.54 L596.77 754.46 L597.84 753.39 L598.91 752.33 L600 751.27 L601.09 750.23 L602.2 749.19 L603.31 748.16 L604.42 747.12 L605.51 746.07 L606.58 745 L607.61 743.91 L608.61 742.78 L609.57 741.62 L610.49 740.43 L611.37 739.2 L612.23 737.96 L613.08 736.71 L613.92 735.45 L614.76 734.18 L615.61 732.93 L616.48 731.69 L617.37 730.46 L618.28 729.25 L619.2 728.05 L620.13 726.86 L621.06 725.67 L622 724.48 L622.93 723.29 L623.85 722.1 L624.76 720.89 L625.65 719.67 L626.53 718.44 L627.39 717.2 L628.24 715.95 L629.07 714.69 L629.9 713.42 L630.71 712.14 L631.5 710.85 L632.29 709.55 L633.06 708.25 L633.83 706.95 L634.6 705.64 L635.37 704.33 L636.15 703.04 L636.94 701.75 L637.75 700.47 L638.58 699.21 L639.44 697.98 L640.33 696.76 L641.25 695.57 L642.2 694.39 L643.17 693.23 L644.15 692.08 L645.14 690.94 L646.13 689.79 L647.11 688.64 L648.08 687.48 L649.04 686.3 L649.99 685.13 L650.94 683.95 L651.89 682.77 L652.85 681.6 L653.83 680.45 L654.84 679.33 L655.87 678.23 L656.95 677.16 L658.06 676.13 L659.2 675.14 L660.39 674.19 L661.61 673.29 L662.87 672.45 L664.17 671.66 L665.5 670.94 L666.87 670.28 L668.26 669.68 L669.68 669.16 L671.13 668.7 L672.6 668.33 L674.08 668.03 L675.58 667.8 L677.09 667.66 L678.61 667.6 L680.12 667.62 L681.63 667.73 L683.14 667.92 L684.62 668.21 L686.09 668.6 L687.53 669.08 L688.94 669.65 L690.3 670.32 L691.61 671.07 L692.87 671.9 L694.09 672.8 L695.27 673.74 L696.43 674.71 L697.59 675.69 L698.76 676.66 L699.94 677.61 L701.13 678.53 L702.35 679.43 L703.6 680.29 L704.86 681.12 L706.14 681.93 L707.45 682.7 L708.77 683.45 L710.09 684.2 L711.4 684.96 L712.68 685.76 L713.91 686.61 L715.1 687.53 L716.23 688.52 L717.32 689.57 L718.38 690.65 L719.41 691.77 L720.43 692.91 L721.44 694.04 L722.46 695.17 L723.48 696.29 L724.52 697.39 L725.58 698.48 L726.65 699.53 L727.76 700.56 L728.89 701.56 L730.06 702.52 L731.25 703.45 L732.46 704.36 L733.67 705.28 L734.86 706.2 L736.03 707.16 L737.16 708.16 L738.24 709.21 L739.27 710.31 L740.28 711.44 L741.26 712.59 L742.25 713.74 L743.24 714.89 L744.25 716.01 L745.3 717.1 L746.38 718.15 L747.5 719.18 L748.63 720.17 L749.78 721.16 L750.92 722.15 L752.06 723.15 L753.18 724.16 L754.28 725.2 L755.36 726.26 L756.43 727.33 L757.49 728.41 L758.54 729.5 L759.6 730.58 L760.66 731.66 L761.73 732.72 L762.8 733.78 L763.88 734.83 L764.96 735.88 L766.04 736.95 L767.1 738.02 L768.15 739.12 L769.18 740.24 L770.2 741.37 L771.22 742.51 L772.25 743.64 L773.3 744.73 L774.38 745.77 L775.52 746.75 L776.72 747.65 L777.98 748.47 L779.29 749.22 L780.64 749.92 L782 750.6" stroke="#1E88E5"/>
<path d="M593.6 760.5 L594.85 759.64 L596.1 758.78 L597.33 757.9 L598.55 757.01 L599.74 756.08 L600.91 755.12 L602.04 754.13 L603.15 753.1 L604.24 752.05 L605.3 750.97 L606.35 749.88 L607.4 748.78 L608.43 747.68 L609.47 746.57 L610.51 745.46 L611.54 744.35 L612.56 743.24 L613.57 742.11 L614.57 740.98 L615.55 739.83 L616.51 738.67 L617.45 737.48 L618.37 736.29 L619.27 735.07 L620.16 733.85 L621.03 732.61 L621.89 731.37 L622.75 730.12 L623.59 728.86 L624.43 727.6 L625.27 726.34 L626.11 725.08 L626.94 723.81 L627.78 722.55 L628.61 721.29 L629.45 720.04 L630.3 718.78 L631.15 717.53 L632 716.29 L632.86 715.05 L633.73 713.81 L634.61 712.58 L635.49 711.35 L636.37 710.12 L637.25 708.89 L638.13 707.65 L639 706.42 L639.87 705.18 L640.74 703.94 L641.6 702.7 L642.46 701.45 L643.33 700.21 L644.2 698.97 L645.08 697.74 L645.97 696.52 L646.88 695.31 L647.8 694.12 L648.75 692.95 L649.72 691.78 L650.7 690.63 L651.68 689.49 L652.67 688.34 L653.65 687.19 L654.63 686.03 L655.59 684.86 L656.53 683.67 L657.46 682.47 L658.39 681.27 L659.32 680.07 L660.27 678.89 L661.24 677.73 L662.24 676.6 L663.28 675.51 L664.37 674.48 L665.52 673.49 L666.71 672.56 L667.96 671.69 L669.25 670.89 L670.59 670.15 L671.97 669.48 L673.38 668.87 L674.78 668.25 L676.13 667.58 L677.4 666.8 L678.55 665.86 L679.63 664.8 L680.73 663.74 L681.94 662.78 L683.28 662.05 L684.74 661.71 L686.26 661.76 L687.75 662.09 L689.18 662.57 L690.59 663.11 L692 663.65 L693.42 664.19 L694.83 664.72 L696.25 665.26 L697.66 665.79 L699.08 666.34 L700.48 666.9 L701.88 667.48 L703.26 668.09 L704.63 668.73 L705.98 669.42 L707.31 670.16 L708.61 670.95 L709.87 671.8 L711.09 672.7 L712.27 673.67 L713.39 674.68 L714.45 675.76 L715.45 676.89 L716.4 678.07 L717.32 679.27 L718.22 680.49 L719.12 681.71 L720.04 682.91 L720.98 684.1 L721.96 685.24 L722.99 686.35 L724.05 687.43 L725.13 688.48 L726.23 689.53 L727.32 690.57 L728.42 691.62 L729.49 692.69 L730.54 693.78 L731.56 694.9 L732.56 696.03 L733.54 697.19 L734.5 698.36 L735.44 699.55 L736.35 700.75 L737.25 701.97 L738.13 703.2 L739 704.44 L739.87 705.69 L740.72 706.93 L741.58 708.18 L742.45 709.42 L743.33 710.65 L744.22 711.87 L745.13 713.07 L746.06 714.26 L747.02 715.43 L747.99 716.59 L748.97 717.74 L749.95 718.89 L750.95 720.03 L751.94 721.18 L752.92 722.33 L753.9 723.48 L754.87 724.64 L755.84 725.8 L756.8 726.97 L757.77 728.14 L758.73 729.3 L759.69 730.47 L760.66 731.63 L761.63 732.79 L762.6 733.94 L763.58 735.09 L764.55 736.25 L765.52 737.41 L766.49 738.57 L767.44 739.75 L768.39 740.93 L769.32 742.13 L770.25 743.34 L771.18 744.54 L772.12 745.73 L773.07 746.91 L774.05 748.06 L775.07 749.17 L776.13 750.24 L777.23 751.27 L778.38 752.24 L779.57 753.18 L780.78 754.1 L782 755" stroke="#D32F2F"/>
<path d="M593.6 759 L594.84 758.45 L596.06 757.9 L597.27 757.31 L598.45 756.69 L599.6 756.03 L600.7 755.3 L601.76 754.5 L602.76 753.64 L603.73 752.73 L604.68 751.78 L605.6 750.8 L606.5 749.8 L607.41 748.8 L608.32 747.81 L609.24 746.83 L610.17 745.86 L611.11 744.91 L612.05 743.97 L613 743.03 L613.95 742.09 L614.89 741.15 L615.82 740.2 L616.75 739.24 L617.65 738.26 L618.55 737.27 L619.43 736.27 L620.3 735.25 L621.15 734.22 L621.99 733.18 L622.82 732.13 L623.64 731.07 L624.44 730.01 L625.24 728.93 L626.02 727.85 L626.79 726.76 L627.56 725.67 L628.33 724.58 L629.1 723.49 L629.87 722.4 L630.65 721.31 L631.44 720.23 L632.23 719.16 L633.04 718.1 L633.85 717.04 L634.68 715.99 L635.5 714.94 L636.33 713.88 L637.15 712.83 L637.96 711.77 L638.76 710.7 L639.55 709.63 L640.32 708.54 L641.08 707.44 L641.82 706.33 L642.55 705.21 L643.28 704.09 L644 702.97 L644.73 701.84 L645.46 700.73 L646.2 699.62 L646.96 698.52 L647.73 697.43 L648.53 696.36 L649.34 695.3 L650.17 694.25 L651.02 693.22 L651.88 692.2 L652.75 691.18 L653.63 690.17 L654.51 689.17 L655.39 688.17 L656.27 687.17 L657.15 686.17 L658.03 685.17 L658.92 684.17 L659.81 683.18 L660.7 682.19 L661.61 681.2 L662.52 680.23 L663.45 679.26 L664.39 678.29 L665.35 677.35 L666.34 676.43 L667.36 675.55 L668.41 674.72 L669.5 673.95 L670.64 673.25 L671.83 672.64 L673.07 672.13 L674.35 671.74 L675.66 671.5 L676.99 671.37 L678.33 671.29 L679.65 671.16 L680.96 670.93 L682.26 670.63 L683.56 670.28 L684.85 669.91 L686.14 669.55 L687.44 669.22 L688.75 668.93 L690.07 668.73 L691.4 668.61 L692.75 668.62 L694.1 668.76 L695.42 669.05 L696.69 669.5 L697.89 670.13 L699 670.93 L700.07 671.77 L701.19 672.48 L702.43 672.9 L703.77 673.08 L705.05 673.42 L706.15 674.2 L707.2 675.08 L708.37 675.59 L709.71 675.58 L711.08 675.48 L712.34 675.7 L713.44 676.35 L714.44 677.29 L715.34 678.41 L716.2 679.59 L717.03 680.7 L717.88 681.72 L718.75 682.69 L719.67 683.64 L720.63 684.56 L721.62 685.45 L722.63 686.34 L723.66 687.21 L724.7 688.07 L725.74 688.92 L726.78 689.78 L727.81 690.63 L728.83 691.48 L729.85 692.34 L730.87 693.2 L731.89 694.06 L732.9 694.92 L733.92 695.78 L734.94 696.65 L735.97 697.51 L737 698.39 L738.02 699.27 L739.03 700.17 L740.01 701.09 L740.96 702.03 L741.87 703 L742.73 704 L743.54 705.05 L744.28 706.14 L744.98 707.26 L745.64 708.4 L746.29 709.56 L746.95 710.73 L747.63 711.89 L748.35 713.04 L749.12 714.16 L749.98 715.22 L750.98 716.1 L752.17 716.68 L753.46 717.1 L754.67 717.59 L755.69 718.34 L756.55 719.32 L757.29 720.46 L757.97 721.68 L758.64 722.93 L759.35 724.14 L760.13 725.27 L760.98 726.32 L761.87 727.32 L762.8 728.27 L763.75 729.2 L764.7 730.13 L765.64 731.06 L766.56 732.02 L767.45 733.02 L768.29 734.06 L769.12 735.12 L769.94 736.19 L770.77 737.24 L771.64 738.26 L772.55 739.24 L773.52 740.15 L774.58 740.98 L775.72 741.71 L776.92 742.38 L778.08 743.07 L779.13 743.85 L780 744.78 L780.68 745.89 L781.2 747.12 L781.63 748.44 L782 749.8" stroke="#4CAF50"/>
<path d="M593.6 776.6 L595.1 776.55 L596.61 776.49 L598.11 776.44 L599.62 776.39 L601.13 776.33 L602.63 776.28 L604.14 776.21 L605.65 776.12 L607.15 775.99 L608.64 775.79 L610.12 775.52 L611.59 775.18 L613.04 774.76 L614.48 774.27 L615.89 773.72 L617.28 773.1 L618.64 772.42 L619.97 771.69 L621.27 770.89 L622.53 770.05 L623.75 769.14 L624.92 768.18 L626.03 767.16 L627.07 766.08 L628.05 764.94 L628.97 763.75 L629.82 762.51 L630.62 761.23 L631.37 759.92 L632.09 758.58 L632.77 757.23 L633.44 755.86 L634.08 754.48 L634.72 753.1 L635.34 751.72 L635.94 750.34 L636.53 748.95 L637.1 747.55 L637.66 746.16 L638.2 744.75 L638.72 743.34 L639.22 741.93 L639.7 740.51 L640.17 739.08 L640.61 737.64 L641.03 736.2 L641.44 734.75 L641.83 733.29 L642.2 731.83 L642.56 730.37 L642.91 728.9 L643.25 727.43 L643.59 725.96 L643.91 724.49 L644.23 723.01 L644.54 721.53 L644.86 720.06 L645.17 718.58 L645.47 717.1 L645.78 715.63 L646.08 714.15 L646.39 712.67 L646.69 711.2 L646.99 709.72 L647.29 708.25 L647.59 706.77 L647.88 705.29 L648.18 703.82 L648.48 702.34 L648.77 700.86 L649.06 699.39 L649.36 697.91 L649.65 696.43 L649.95 694.96 L650.24 693.48 L650.53 692 L650.83 690.52 L651.12 689.05 L651.41 687.57 L651.71 686.09 L652 684.61 L652.3 683.14 L652.59 681.66 L652.88 680.18 L653.18 678.7 L653.47 677.23 L653.77 675.75 L654.07 674.27 L654.36 672.79 L654.66 671.31 L654.95 669.84 L655.25 668.36 L655.54 666.88 L655.83 665.4 L656.11 663.92 L656.39 662.44 L656.66 660.96 L656.93 659.48 L657.18 657.99 L657.43 656.51 L657.68 655.02 L657.91 653.53 L658.14 652.04 L658.37 650.55 L658.59 649.06 L658.81 647.57 L659.03 646.08 L659.25 644.59 L659.47 643.1 L659.69 641.61 L659.91 640.12 L660.13 638.63 L660.36 637.14 L660.58 635.65 L660.81 634.16 L661.04 632.67 L661.27 631.18 L661.5 629.7 L661.73 628.21 L661.97 626.72 L662.2 625.23 L662.43 623.74 L662.67 622.25 L662.91 620.76 L663.15 619.28 L663.39 617.79 L663.64 616.3 L663.89 614.82 L664.15 613.33 L664.41 611.85 L664.68 610.37 L664.96 608.89 L665.24 607.41 L665.53 605.93 L665.82 604.45 L666.12 602.97 L666.42 601.5 L666.73 600.02 L667.04 598.55 L667.35 597.08 L667.67 595.6 L667.99 594.13 L668.31 592.66 L668.64 591.19 L668.96 589.72 L669.29 588.25 L669.63 586.78 L669.97 585.31 L670.31 583.85 L670.66 582.38 L671.01 580.91 L671.36 579.45 L671.73 577.98 L672.1 576.52 L672.47 575.06 L672.87 573.6 L673.27 572.15 L673.69 570.7 L674.13 569.26 L674.59 567.82 L675.07 566.4 L675.58 564.98 L676.11 563.57 L676.67 562.17 L677.27 560.78 L677.89 559.41 L678.54 558.05 L679.23 556.71 L679.95 555.39 L680.75 554.11 L681.71 552.95 L682.91 551.94 L684.31 551.34 L685.76 551.51 L687.1 552.32 L688.2 553.4 L689.09 554.61 L689.85 555.91 L690.55 557.25 L691.22 558.6 L691.86 559.96 L692.47 561.34 L693.05 562.73 L693.61 564.13 L694.13 565.54 L694.64 566.97 L695.12 568.39 L695.57 569.83 L696.01 571.27 L696.42 572.72 L696.82 574.18 L697.2 575.64 L697.57 577.1 L697.93 578.57 L698.27 580.04 L698.6 581.51 L698.93 582.98 L699.24 584.45 L699.55 585.93 L699.85 587.41 L700.14 588.88 L700.43 590.36 L700.71 591.84 L700.99 593.32 L701.26 594.8 L701.54 596.28 L701.8 597.77 L702.07 599.25 L702.34 600.73 L702.6 602.22 L702.86 603.7 L703.12 605.18 L703.38 606.67 L703.64 608.15 L703.9 609.64 L704.16 611.12 L704.41 612.61 L704.67 614.09 L704.93 615.57 L705.19 617.06 L705.44 618.54 L705.7 620.03 L705.95 621.51 L706.21 623 L706.46 624.48 L706.71 625.97 L706.96 627.45 L707.21 628.94 L707.46 630.43 L707.7 631.91 L707.95 633.4 L708.19 634.89 L708.44 636.37 L708.68 637.86 L708.93 639.35 L709.17 640.83 L709.42 642.32 L709.67 643.8 L709.91 645.29 L710.16 646.78 L710.41 648.26 L710.66 649.75 L710.9 651.24 L711.15 652.72 L711.4 654.21 L711.64 655.69 L711.88 657.18 L712.12 658.67 L712.36 660.16 L712.6 661.64 L712.84 663.13 L713.08 664.62 L713.31 666.11 L713.55 667.6 L713.79 669.08 L714.03 670.57 L714.27 672.06 L714.51 673.55 L714.75 675.03 L714.99 676.52 L715.24 678.01 L715.49 679.49 L715.74 680.98 L715.99 682.46 L716.25 683.95 L716.51 685.43 L716.77 686.91 L717.04 688.4 L717.31 689.88 L717.59 691.36 L717.86 692.84 L718.15 694.32 L718.43 695.8 L718.73 697.28 L719.02 698.76 L719.33 700.23 L719.63 701.71 L719.95 703.18 L720.26 704.65 L720.59 706.13 L720.92 707.6 L721.25 709.06 L721.59 710.53 L721.94 712 L722.3 713.46 L722.65 714.92 L723.02 716.38 L723.39 717.85 L723.76 719.3 L724.13 720.76 L724.51 722.22 L724.89 723.68 L725.28 725.14 L725.67 726.59 L726.05 728.05 L726.44 729.51 L726.84 730.97 L727.23 732.42 L727.63 733.88 L728.05 735.33 L728.46 736.78 L728.9 738.22 L729.34 739.66 L729.8 741.09 L730.28 742.52 L730.77 743.94 L731.29 745.35 L731.82 746.76 L732.38 748.16 L732.95 749.55 L733.55 750.93 L734.16 752.3 L734.8 753.67 L735.45 755.04 L736.12 756.39 L736.8 757.74 L737.51 759.08 L738.23 760.42 L738.99 761.73 L739.77 763.03 L740.6 764.29 L741.48 765.51 L742.42 766.69 L743.42 767.82 L744.49 768.88 L745.63 769.88 L746.83 770.82 L748.08 771.67 L749.39 772.45 L750.74 773.14 L752.12 773.74 L753.54 774.26 L754.98 774.7 L756.45 775.06 L757.93 775.37 L759.43 775.61 L760.93 775.82 L762.43 775.98 L763.93 776.11 L765.44 776.21 L766.94 776.29 L768.44 776.35 L769.95 776.4 L771.45 776.44 L772.96 776.47 L774.47 776.5 L775.97 776.53 L777.48 776.55 L778.99 776.57 L780.49 776.58 L782 776.6" stroke="#673AB7"/>
<path d="M593.6 775.3 L595.06 774.92 L596.52 774.54 L597.97 774.16 L599.42 773.76 L600.87 773.35 L602.32 772.93 L603.76 772.48 L605.19 772.02 L606.61 771.53 L608.03 771.02 L609.44 770.47 L610.83 769.9 L612.21 769.29 L613.57 768.64 L614.91 767.95 L616.22 767.21 L617.5 766.41 L618.75 765.56 L619.96 764.66 L621.14 763.72 L622.28 762.73 L623.39 761.7 L624.46 760.64 L625.49 759.54 L626.49 758.41 L627.45 757.25 L628.38 756.06 L629.29 754.86 L630.16 753.63 L631.02 752.38 L631.86 751.13 L632.68 749.86 L633.48 748.58 L634.26 747.29 L635.03 745.99 L635.78 744.69 L636.52 743.37 L637.24 742.05 L637.93 740.71 L638.62 739.37 L639.28 738.02 L639.93 736.66 L640.55 735.29 L641.16 733.92 L641.76 732.54 L642.33 731.15 L642.9 729.75 L643.45 728.35 L643.99 726.94 L644.52 725.53 L645.04 724.12 L645.56 722.7 L646.06 721.28 L646.56 719.86 L647.06 718.43 L647.55 717.01 L648.04 715.58 L648.53 714.16 L649.02 712.73 L649.51 711.31 L649.99 709.88 L650.47 708.45 L650.96 707.03 L651.44 705.6 L651.92 704.17 L652.4 702.75 L652.87 701.32 L653.35 699.89 L653.83 698.46 L654.3 697.04 L654.77 695.61 L655.25 694.18 L655.72 692.75 L656.19 691.32 L656.66 689.89 L657.13 688.46 L657.59 687.02 L658.06 685.59 L658.52 684.16 L658.98 682.73 L659.44 681.29 L659.9 679.86 L660.35 678.42 L660.81 676.98 L661.25 675.55 L661.7 674.11 L662.14 672.67 L662.58 671.23 L663.02 669.79 L663.45 668.35 L663.88 666.9 L664.31 665.46 L664.73 664.02 L665.15 662.57 L665.57 661.12 L665.99 659.68 L666.4 658.23 L666.81 656.78 L667.23 655.33 L667.64 653.88 L668.04 652.43 L668.45 650.98 L668.86 649.53 L669.27 648.08 L669.67 646.63 L670.08 645.18 L670.5 643.73 L670.92 642.29 L671.34 640.84 L671.78 639.4 L672.22 637.96 L672.67 636.53 L673.14 635.09 L673.61 633.67 L674.1 632.25 L674.61 630.83 L675.12 629.41 L675.64 628 L676.17 626.59 L676.7 625.18 L677.23 623.77 L677.77 622.36 L678.31 620.96 L678.84 619.55 L679.37 618.14 L679.9 616.73 L680.44 615.32 L681 613.92 L681.59 612.53 L682.22 611.17 L682.9 609.82 L683.62 608.5 L684.38 607.19 L685.17 605.9 L685.98 604.63 L686.79 603.37 L687.61 602.12 L688.46 600.9 L689.4 599.72 L690.48 598.62 L691.74 597.64 L693.13 597.01 L694.56 596.96 L695.95 597.51 L697.27 598.41 L698.45 599.45 L699.51 600.54 L700.45 601.69 L701.3 602.91 L702.09 604.17 L702.82 605.48 L703.49 606.83 L704.12 608.21 L704.72 609.61 L705.29 611.02 L705.83 612.43 L706.36 613.84 L706.86 615.26 L707.36 616.68 L707.83 618.1 L708.3 619.53 L708.76 620.96 L709.21 622.4 L709.65 623.83 L710.08 625.28 L710.51 626.72 L710.94 628.17 L711.36 629.61 L711.77 631.06 L712.19 632.51 L712.6 633.96 L713.02 635.41 L713.43 636.86 L713.84 638.31 L714.25 639.76 L714.66 641.21 L715.06 642.66 L715.46 644.11 L715.85 645.56 L716.23 647.02 L716.6 648.48 L716.96 649.94 L717.31 651.4 L717.65 652.87 L717.99 654.34 L718.31 655.81 L718.63 657.28 L718.95 658.75 L719.27 660.22 L719.58 661.7 L719.9 663.17 L720.22 664.64 L720.55 666.11 L720.88 667.58 L721.22 669.05 L721.58 670.51 L721.94 671.97 L722.31 673.43 L722.69 674.89 L723.07 676.34 L723.47 677.8 L723.86 679.25 L724.27 680.7 L724.67 682.15 L725.07 683.6 L725.47 685.05 L725.87 686.51 L726.27 687.96 L726.66 689.41 L727.05 690.87 L727.44 692.32 L727.83 693.78 L728.22 695.23 L728.6 696.69 L729 698.14 L729.39 699.59 L729.79 701.05 L730.19 702.5 L730.6 703.95 L731.01 705.39 L731.44 706.84 L731.87 708.28 L732.31 709.72 L732.76 711.16 L733.22 712.59 L733.68 714.03 L734.16 715.45 L734.65 716.88 L735.14 718.3 L735.65 719.72 L736.16 721.14 L736.69 722.55 L737.22 723.96 L737.77 725.36 L738.33 726.76 L738.9 728.16 L739.48 729.55 L740.08 730.93 L740.69 732.31 L741.32 733.67 L741.97 735.04 L742.63 736.39 L743.31 737.73 L744.01 739.06 L744.73 740.39 L745.47 741.7 L746.23 743 L747.01 744.29 L747.81 745.56 L748.64 746.83 L749.48 748.07 L750.35 749.31 L751.25 750.53 L752.16 751.73 L753.1 752.91 L754.07 754.07 L755.06 755.21 L756.08 756.31 L757.14 757.39 L758.23 758.43 L759.35 759.43 L760.51 760.39 L761.71 761.32 L762.93 762.2 L764.19 763.04 L765.47 763.84 L766.77 764.61 L768.09 765.33 L769.43 766.02 L770.79 766.68 L772.16 767.3 L773.54 767.89 L774.94 768.46 L776.34 769.01 L777.75 769.55 L779.16 770.07 L780.58 770.59 L782 771.1" stroke="#FFC107"/>
</g>
<g clip-path="url(#cp10)" fill="none" stroke-width="1.85" stroke-linejoin="round">
<path d="M101 381.6 L100.2 367.1 L101 352.6 L103.9 338.1 L106.8 323.5 L107.5 311.9 L114.8 306.9 L116.2 301.8 L121.3 297.7 L133.2 298.9 L143.1 306.9 L149.6 317 L148.9 321.4 L153.5 326.4 L152.1 330.8 L153.9 336.6 L159.3 339.5 L159 345.3 L163.4 355.5 L165.6 364.2 L169.2 370 L173.5 384.5 L177.9 398.1 L181.5 406.8 L180.1 414 L182.2 428.5 L183.7 434.3 L180.8 443.1 L179.3 454.7 L175 463.4 L167.7 469.2 L163.4 475.7 L157.6 480.8 L148.9 484.4 L145.2 488.8 L143.1 487.3 L141.6 481.5 L132.9 477.2 L127.1 470.6 L121.3 459 L116.2 447.4 L108.2 434.3 L107.5 425.6 L104.6 416.9 L101 403.9 L99.5 394.9 Z" stroke="#1E88E5"/>
<path d="M124.3 292.8 L127.5 292.8 L125.9 296.2 Z" stroke="#1E88E5" fill="#1E88E5" stroke-width="0.9"/>
<path d="M103.1 381.6 L103.9 368.5 L108.2 358.4 L111.9 349.7 L114.8 345.3 L115.5 340.2 L119.1 336.6 L122 335.2 L127.8 329.3 L133.6 333 L135.1 335.9 L140.9 338.1 L143.1 341 L143.1 345.3 L151 348.9 L153.2 358.4 L159.7 362.7 L161.9 368.5 L165.6 372.9 L165.6 378.7 L172.1 390.3 L174.3 395.2 L177.9 406.8 L181.5 414 L183 428.5 L183.7 438.7 L181.5 447.4 L177.9 453.2 L172.1 456.8 L166.3 461.9 L160.5 464.5 L151.8 465.6 L146 464.1 L138.7 459 L136.5 454.7 L133.6 453.9 L128.5 448.9 L121.3 438.7 L114 427.1 L108.2 412.6 L104.6 396.6 Z" stroke="#D32F2F"/>
<path d="M97.3 381.6 L97.3 359.8 L99.5 342.4 L103.9 329.3 L111.1 320.6 L119.1 314.8 L128.5 312.2 L131.4 317 L138.7 322.1 L147.4 332.2 L152.5 342.4 L151.8 346.8 L157.6 354 L162.6 359.8 L161.9 367.1 L167.7 372.9 L172.1 381.6 L175 391.8 L179.3 396.6 L177.9 400.5 L180.8 406.8 L180.8 411.1 L185.1 416.2 L183 430 L185.1 435.1 L183.7 441.6 L180.1 451 L172.1 455.4 L166.3 461.9 L161.9 467.7 L154.7 468.5 L148.9 469.2 L141.6 466.3 L132.9 462.7 L127.1 457.6 L122.7 448.9 L117.7 443.1 L111.9 430 L105.3 414 L100.2 396.6 Z" stroke="#4CAF50"/>
<path d="M115.1 390 L115.17 388.49 L115.26 386.98 L115.38 385.47 L115.55 383.97 L115.75 382.48 L116.01 381.01 L116.33 379.55 L116.71 378.1 L117.16 376.68 L117.69 375.28 L118.29 373.9 L118.99 372.55 L119.77 371.22 L120.65 369.93 L121.64 368.67 L122.71 367.48 L123.88 366.41 L125.13 365.5 L126.45 364.79 L127.84 364.32 L129.3 364.13 L130.8 364.21 L132.3 364.51 L133.78 364.96 L135.21 365.53 L136.58 366.2 L137.9 366.97 L139.15 367.82 L140.35 368.75 L141.49 369.75 L142.56 370.82 L143.57 371.94 L144.52 373.11 L145.42 374.32 L146.26 375.56 L147.06 376.84 L147.83 378.15 L148.56 379.47 L149.27 380.8 L149.95 382.15 L150.61 383.5 L151.24 384.87 L151.85 386.24 L152.43 387.63 L152.98 389.03 L153.5 390.45 L154 391.87 L154.46 393.31 L154.88 394.75 L155.27 396.21 L155.62 397.68 L155.93 399.16 L156.19 400.64 L156.41 402.13 L156.58 403.63 L156.69 405.14 L156.75 406.64 L156.77 408.15 L156.74 409.66 L156.67 411.17 L156.57 412.68 L156.43 414.18 L156.26 415.67 L156.06 417.16 L155.84 418.64 L155.59 420.11 L155.31 421.58 L154.99 423.04 L154.63 424.51 L154.23 425.98 L153.79 427.46 L153.29 428.93 L152.72 430.37 L152.06 431.75 L151.3 433.03 L150.41 434.18 L149.38 435.19 L148.23 436.09 L147 436.94 L145.72 437.81 L144.43 438.75 L143.15 439.8 L141.88 440.8 L140.63 441.59 L139.38 442 L138.14 441.92 L136.92 441.38 L135.71 440.5 L134.52 439.37 L133.35 438.08 L132.2 436.74 L131.08 435.43 L129.98 434.22 L128.92 433.08 L127.9 431.99 L126.91 430.92 L125.97 429.85 L125.08 428.74 L124.23 427.57 L123.44 426.33 L122.69 425.05 L121.98 423.72 L121.32 422.35 L120.69 420.95 L120.1 419.53 L119.54 418.09 L119.01 416.65 L118.51 415.2 L118.04 413.75 L117.59 412.3 L117.18 410.85 L116.81 409.39 L116.46 407.93 L116.15 406.47 L115.88 405 L115.65 403.52 L115.46 402.04 L115.3 400.55 L115.18 399.05 L115.1 397.55 L115.05 396.05 L115.02 394.54 L115.03 393.03 L115.05 391.51 Z" stroke="#673AB7"/>
<path d="M115.1 390 L115.19 388.51 L115.33 387.02 L115.5 385.53 L115.73 384.04 L116 382.55 L116.32 381.07 L116.7 379.59 L117.15 378.12 L117.66 376.68 L118.25 375.28 L118.93 373.93 L119.7 372.65 L120.56 371.45 L121.53 370.33 L122.6 369.3 L123.77 368.34 L125.03 367.46 L126.37 366.65 L127.79 365.93 L129.24 365.36 L130.71 364.98 L132.17 364.85 L133.59 365.02 L134.96 365.48 L136.28 366.17 L137.56 367.05 L138.79 368.04 L139.98 369.1 L141.13 370.17 L142.24 371.24 L143.31 372.32 L144.33 373.41 L145.31 374.52 L146.25 375.66 L147.14 376.83 L147.98 378.05 L148.79 379.29 L149.56 380.57 L150.32 381.86 L151.08 383.17 L151.84 384.47 L152.62 385.77 L153.42 387.04 L154.27 388.3 L155.16 389.52 L156.1 390.71 L157.06 391.88 L158.01 393.05 L158.92 394.24 L159.79 395.45 L160.57 396.72 L161.25 398.03 L161.84 399.4 L162.34 400.81 L162.77 402.25 L163.13 403.73 L163.44 405.22 L163.7 406.73 L163.92 408.25 L164.11 409.76 L164.28 411.27 L164.42 412.78 L164.53 414.28 L164.61 415.77 L164.64 417.27 L164.63 418.77 L164.57 420.27 L164.46 421.77 L164.28 423.28 L164.02 424.77 L163.68 426.25 L163.25 427.7 L162.7 429.1 L162.04 430.46 L161.24 431.75 L160.32 432.96 L159.29 434.08 L158.16 435.1 L156.93 435.99 L155.63 436.75 L154.26 437.37 L152.83 437.86 L151.36 438.22 L149.86 438.48 L148.35 438.64 L146.83 438.72 L145.31 438.71 L143.81 438.62 L142.32 438.43 L140.84 438.15 L139.39 437.77 L137.96 437.29 L136.56 436.72 L135.2 436.06 L133.88 435.31 L132.61 434.49 L131.39 433.59 L130.23 432.63 L129.12 431.61 L128.07 430.53 L127.07 429.41 L126.12 428.24 L125.2 427.04 L124.34 425.8 L123.51 424.54 L122.72 423.26 L121.96 421.95 L121.25 420.62 L120.58 419.28 L119.95 417.91 L119.36 416.53 L118.81 415.13 L118.3 413.71 L117.83 412.29 L117.41 410.85 L117.02 409.39 L116.67 407.93 L116.36 406.46 L116.08 404.98 L115.84 403.49 L115.62 402 L115.44 400.5 L115.29 399.01 L115.18 397.5 L115.09 396 L115.04 394.5 L115.03 393 L115.04 391.5 Z" stroke="#FFC107"/>
</g>
<g stroke="#000" stroke-opacity="0.76" stroke-width="1.0" stroke-dasharray="5.95 5.0" fill="none">
<path d="M51 395 L305.85 395"/>
<path d="M133 522.4 L133 267.45"/>
</g>
<circle cx="138" cy="409.7" r="2.35" fill="#1E88E5"/>
<circle cx="139.9" cy="404.6" r="2.35" fill="#D32F2F"/>
<circle cx="134.8" cy="399.1" r="2.35" fill="#4CAF50"/>
<circle cx="136.1" cy="403.4" r="2.35" fill="#673AB7"/>
<circle cx="141.6" cy="407.5" r="2.35" fill="#FFC107"/>
<g clip-path="url(#cp20)" fill="none" stroke-width="1.85" stroke-linejoin="round">
<path d="M100.7 631.6 L99.9 617.1 L101 599.7 L101.7 588.1 L103.9 573.5 L108.9 560.5 L116.2 551.8 L119.1 547.4 L122 547.1 L126.4 551 L131.4 552.5 L135.1 556.9 L140.9 562.7 L143.8 566.3 L143.1 571.4 L148.1 576.4 L153.2 585.9 L159 599.7 L164.1 612.7 L164.1 618.5 L168.5 631.6 L172.8 649.5 L177.1 661.1 L177.9 677.1 L182.2 689.4 L178.6 695.2 L182.2 698.9 L179.3 706.1 L175.7 716.3 L172.8 726.4 L167.7 727.2 L168.5 733 L159 735.9 L153.6 741 L146 738 L139.4 735.1 L133.6 727.9 L130 723.5 L122.7 714.8 L116.2 703.2 L109.7 688.7 L106 671.3 L102.4 652.4 Z" stroke="#1E88E5"/>
<path d="M108.6 637 L107.5 624.3 L108.2 609.8 L106.8 595.3 L108.7 580.8 L111.9 566.3 L114.8 556.9 L119.1 555.4 L123.5 548.6 L127.8 553.2 L132.9 553.9 L139.4 561.2 L146 565.6 L150.3 580.1 L153.9 583.7 L159 592.4 L163.4 608.4 L166.3 620 L170.6 634.5 L173.5 649.5 L175.7 664 L177.1 675.6 L175.7 693.1 L173.5 704.7 L169.2 713.4 L169.2 720.6 L163.4 727.9 L157.6 731.5 L147.4 730.1 L141.6 725 L135.1 720.6 L130 711.9 L124.2 703.2 L119.1 688.7 L114 672.7 L111.1 652.4 Z" stroke="#D32F2F"/>
<path d="M100.7 631.6 L100.2 609.8 L101 588.1 L101.7 576.4 L103.9 564.8 L106.8 561.2 L107.5 553.2 L111.1 549.6 L114.8 547.4 L119.4 540.9 L127.8 545.7 L133.2 545.2 L135.1 548.9 L138.7 552.5 L143.8 557.6 L144.5 561.9 L148.1 565.6 L149.6 572.1 L154.7 578.6 L154.7 583.7 L160.5 596.8 L166.3 612.7 L165.6 620 L169.2 634.5 L172.1 642.3 L175 652.4 L174.3 659.7 L176.4 666.9 L177.9 678.5 L176.4 697.4 L175.7 707.6 L169.9 712.6 L171.4 717.7 L169.2 722.8 L162.6 725 L157.6 729.3 L151.8 732.2 L141.6 727.9 L134.3 722.1 L127.1 711.9 L119.8 700.3 L115.5 690.2 L111.1 682.9 L106.8 666.9 L103.9 649.5 Z" stroke="#4CAF50"/>
<path d="M116.5 633 L116.9 631.63 L117.35 630.28 L117.85 628.94 L118.4 627.61 L118.98 626.27 L119.6 624.93 L120.25 623.56 L120.93 622.17 L121.63 620.74 L122.34 619.26 L123.06 617.74 L123.8 616.19 L124.58 614.68 L125.43 613.26 L126.36 612.01 L127.4 610.97 L128.58 610.22 L129.9 609.81 L131.38 609.76 L132.92 609.76 L134.38 609.47 L135.69 608.68 L136.93 607.84 L138.2 607.44 L139.51 607.59 L140.84 608.19 L142.15 609.15 L143.43 610.36 L144.64 611.73 L145.75 613.16 L146.75 614.57 L147.64 615.93 L148.42 617.25 L149.12 618.55 L149.74 619.85 L150.31 621.15 L150.83 622.46 L151.33 623.81 L151.81 625.19 L152.26 626.6 L152.69 628.03 L153.11 629.48 L153.5 630.95 L153.87 632.43 L154.23 633.92 L154.57 635.41 L154.89 636.9 L155.2 638.39 L155.48 639.87 L155.74 641.35 L155.97 642.83 L156.16 644.32 L156.33 645.8 L156.45 647.29 L156.54 648.78 L156.58 650.27 L156.59 651.76 L156.57 653.26 L156.52 654.76 L156.44 656.26 L156.35 657.77 L156.24 659.28 L156.13 660.78 L156 662.29 L155.87 663.8 L155.72 665.31 L155.55 666.81 L155.37 668.31 L155.15 669.8 L154.9 671.28 L154.61 672.74 L154.27 674.2 L153.89 675.63 L153.46 677.05 L152.98 678.45 L152.45 679.84 L151.87 681.22 L151.26 682.58 L150.6 683.95 L149.91 685.31 L149.19 686.67 L148.44 688.03 L147.65 689.37 L146.81 690.68 L145.91 691.92 L144.93 693.06 L143.86 694.09 L142.68 694.97 L141.38 695.68 L139.98 696.21 L138.5 696.57 L136.98 696.76 L135.42 696.78 L133.87 696.65 L132.35 696.36 L130.88 695.91 L129.48 695.32 L128.17 694.58 L126.98 693.7 L125.92 692.68 L124.97 691.54 L124.13 690.3 L123.37 688.98 L122.69 687.6 L122.06 686.18 L121.47 684.74 L120.92 683.3 L120.38 681.87 L119.86 680.43 L119.37 679 L118.91 677.57 L118.47 676.14 L118.07 674.71 L117.69 673.27 L117.34 671.83 L117.02 670.38 L116.73 668.93 L116.48 667.47 L116.26 666 L116.06 664.53 L115.89 663.04 L115.74 661.55 L115.61 660.06 L115.5 658.55 L115.41 657.04 L115.33 655.53 L115.26 654 L115.2 652.47 L115.15 650.94 L115.11 649.4 L115.08 647.86 L115.07 646.32 L115.09 644.78 L115.13 643.26 L115.2 641.74 L115.31 640.23 L115.45 638.74 L115.64 637.27 L115.87 635.82 L116.16 634.4 Z" stroke="#673AB7"/>
<path d="M116.6 638 L116.3 636.52 L116.03 635.04 L115.77 633.56 L115.56 632.08 L115.39 630.59 L115.26 629.1 L115.17 627.61 L115.13 626.12 L115.12 624.62 L115.14 623.12 L115.19 621.61 L115.27 620.1 L115.38 618.58 L115.5 617.05 L115.65 615.52 L115.82 613.98 L116.01 612.45 L116.21 610.92 L116.43 609.41 L116.67 607.91 L116.92 606.44 L117.2 605 L117.48 603.6 L117.78 602.23 L118.1 600.91 L118.44 599.59 L118.82 598.27 L119.23 596.91 L119.69 595.49 L120.2 594 L120.78 592.39 L121.43 590.66 L122.15 588.81 L122.94 586.95 L123.79 585.18 L124.7 583.62 L125.66 582.38 L126.66 581.56 L127.7 581.29 L128.78 581.66 L129.91 582.59 L131.17 583.57 L132.62 584.15 L134.1 584.51 L135.39 585.08 L136.36 586.09 L137.14 587.4 L137.87 588.82 L138.68 590.18 L139.7 591.32 L140.86 592.3 L142.07 593.2 L143.25 594.11 L144.31 595.12 L145.2 596.27 L145.96 597.53 L146.62 598.88 L147.19 600.3 L147.7 601.76 L148.18 603.25 L148.65 604.75 L149.15 606.22 L149.67 607.67 L150.22 609.1 L150.78 610.5 L151.36 611.89 L151.95 613.26 L152.53 614.64 L153.11 616 L153.68 617.38 L154.23 618.75 L154.75 620.14 L155.25 621.54 L155.72 622.96 L156.18 624.39 L156.61 625.82 L157.03 627.27 L157.44 628.72 L157.83 630.18 L158.23 631.63 L158.62 633.09 L159.01 634.55 L159.41 636.01 L159.81 637.47 L160.21 638.93 L160.6 640.38 L160.97 641.84 L161.34 643.3 L161.68 644.76 L162 646.23 L162.29 647.69 L162.55 649.16 L162.77 650.64 L162.96 652.12 L163.11 653.61 L163.23 655.1 L163.32 656.6 L163.39 658.1 L163.42 659.61 L163.44 661.12 L163.43 662.64 L163.4 664.17 L163.35 665.7 L163.27 667.23 L163.17 668.76 L163.04 670.28 L162.87 671.8 L162.66 673.31 L162.4 674.8 L162.09 676.27 L161.73 677.72 L161.32 679.14 L160.84 680.54 L160.29 681.9 L159.68 683.23 L159.01 684.54 L158.29 685.83 L157.52 687.1 L156.73 688.37 L155.91 689.64 L155.07 690.92 L154.22 692.22 L153.37 693.53 L152.53 694.86 L151.66 696.18 L150.73 697.41 L149.71 698.49 L148.54 699.36 L147.2 699.96 L145.71 700.28 L144.16 700.33 L142.59 700.12 L141.09 699.68 L139.72 699.01 L138.48 698.15 L137.36 697.14 L136.34 696 L135.41 694.77 L134.55 693.49 L133.74 692.18 L132.98 690.86 L132.26 689.53 L131.58 688.19 L130.93 686.84 L130.3 685.49 L129.69 684.13 L129.09 682.76 L128.49 681.38 L127.9 680.01 L127.32 678.62 L126.74 677.23 L126.17 675.84 L125.62 674.44 L125.08 673.03 L124.57 671.62 L124.08 670.2 L123.61 668.77 L123.18 667.33 L122.78 665.88 L122.4 664.43 L122.05 662.97 L121.71 661.5 L121.39 660.03 L121.08 658.56 L120.77 657.09 L120.47 655.62 L120.17 654.14 L119.86 652.67 L119.54 651.2 L119.22 649.73 L118.89 648.27 L118.55 646.8 L118.22 645.34 L117.88 643.88 L117.55 642.41 L117.23 640.94 L116.91 639.47 Z" stroke="#FFC107"/>
</g>
<g stroke="#000" stroke-opacity="0.76" stroke-width="1.0" stroke-dasharray="5.95 5.0" fill="none">
<path d="M51 649.5 L305.85 649.5"/>
<path d="M133 777 L133 522.4"/>
</g>
<circle cx="137.5" cy="642.6" r="2.35" fill="#1E88E5"/>
<circle cx="139.7" cy="643.7" r="2.35" fill="#D32F2F"/>
<circle cx="134.6" cy="646.4" r="2.35" fill="#4CAF50"/>
<circle cx="135.8" cy="653.1" r="2.35" fill="#673AB7"/>
<circle cx="141.6" cy="651.3" r="2.35" fill="#FFC107"/>
<g clip-path="url(#cp21)" fill="none" stroke-width="1.85" stroke-linejoin="round">
<path d="M351.7 634.5 L348.8 624.3 L351 611.3 L349.5 599.7 L351.7 593.9 L343 590.2 L347.3 588.1 L353.9 589.5 L353.1 585.2 L356.8 582.2 L363.3 581.5 L358.9 572.1 L360.4 566.3 L364.8 569.2 L367.7 564.8 L372.7 564.1 L378.5 556.1 L382.9 551.8 L388.7 553.9 L393.1 551.8 L398.9 548.9 L406.8 551 L411.2 546 L417 551.8 L420.6 552.5 L421.4 557.6 L426.4 555.4 L431.5 556.9 L438 562.7 L439.4 571.4 L446.7 576.4 L451.8 584.4 L457.6 590.2 L460.5 598.2 L464.1 604.7 L468.5 602.6 L467.7 609.8 L472.8 615.6 L478.6 618.5 L479.3 628.7 L487.3 628 L486.6 633 L496.8 645.4 L503.3 646.6 L506.2 653.1 L511.3 651.7 L512.7 656.8 L522.9 663.3 L533.8 670.6 L530.1 674.2 L535.9 677.1 L538.9 685.1 L531.6 689.4 L530.9 693.8 L535.2 694.5 L527.2 698.9 L536.7 703.2 L534.5 707.6 L527.2 712.6 L525.8 720.6 L520.7 717 L522.2 723.5 L515.6 721.4 L513.5 727.9 L509.1 722.8 L504 725 L501.1 736.6 L497.5 735.1 L495.3 731.5 L489.5 730.8 L479.3 733.7 L477.9 737.2 L476.5 733.7 L473.5 733.7 L468.5 739.5 L453.9 737.3 L454.7 732.2 L444.5 730.8 L436.6 730.1 L429.3 725 L423.5 719.9 L417 718.5 L416.3 714.1 L411.2 714.1 L404.7 707.6 L397.4 705.4 L398.9 699.6 L394.5 698.9 L389.4 694.5 L383.6 697.7 L380 691.6 L378.5 681.4 L373.5 678.5 L366.2 670.6 L369.1 665.5 L357.5 661.1 L356 651 L358.2 647.3 L355.3 645.2 L349.5 648.1 L351 643.7 Z" stroke="#1E88E5"/>
<circle cx="364.8" cy="557.3" r="1.1" fill="#1E88E5" stroke="none"/>
<circle cx="520.7" cy="670.6" r="1.5" fill="#1E88E5" stroke="none"/>
<circle cx="544.4" cy="698.6" r="1.7" fill="#1E88E5" stroke="none"/>
<path d="M476.3 737.6 L479.5 737.6 L477.9 733.8 Z" stroke="#1E88E5" fill="#1E88E5" stroke-width="0.9"/>
<path d="M364.8 631.6 L363.3 617.1 L366.2 609.1 L364.8 604.7 L366.9 599.7 L364 591 L369.1 588.8 L372 580.8 L375.6 575 L378.5 564.8 L385.8 556.9 L391.6 549.6 L398.9 547.4 L406.8 541.9 L416.3 546 L421.4 543.8 L427.2 549.6 L431.5 551 L435.8 558.3 L440.2 563.4 L443.8 567.7 L444.5 572.1 L449.6 576.4 L449.6 585.9 L454.7 587.3 L456.8 595.3 L459 599.7 L457.6 604 L462.7 611.3 L464.8 618.5 L466.3 624.3 L469.9 630.1 L470.6 637.4 L477.9 643.7 L482.2 652.4 L490.2 661.9 L491.7 670.6 L503.3 680.7 L496 681.4 L495.3 687.2 L499.7 690.2 L504 689.4 L500.4 696 L502.6 705.4 L496.8 703.2 L488 717.7 L479.3 718.5 L467.7 722.8 L460.5 727.9 L454.7 727.2 L446 728.6 L440.9 725.7 L435.1 727.2 L427.9 725 L422.8 717.7 L416.3 715.6 L411.9 716.3 L407.6 709 L401.8 704.7 L396 698.1 L387.2 690.9 L384.3 684.3 L376.4 677.1 L372 668.4 L370.6 656.8 L366.9 651 L369.8 645.2 L366.2 642.3 L367.7 635 Z" stroke="#D32F2F"/>
<path d="M360.4 633 L359.7 617.1 L361.9 612.7 L359.7 605.5 L358.2 599.7 L360.4 596.8 L364.8 596 L361.9 591 L364.8 582.2 L364.8 572.1 L369.1 574.3 L373.5 566.3 L373.5 561.2 L385.8 554.7 L393.1 548.1 L398.9 548.1 L401 540.9 L406.8 538 L411.9 540.9 L418.5 538 L427.9 538.7 L423.5 541.6 L427.9 544.5 L433.7 544.5 L435.9 540.9 L438 547.4 L444.5 553.9 L449.6 552.5 L448.9 559 L456.1 565.6 L459 573.5 L465.6 581.5 L467.7 588.1 L474.3 594.6 L472.1 600.4 L477.2 605.5 L480.1 613.5 L485.9 618.5 L489.5 627.2 L490.2 634.5 L495.3 642.5 L503.3 645.9 L500.4 651 L505.5 656.8 L503.3 661.9 L509.8 666.2 L507.6 671.3 L514.9 675.6 L518.5 680.7 L512.7 685.1 L514.9 693.1 L511.3 700.3 L512.7 706.1 L511.3 709 L506.9 701 L504.7 707.6 L498.2 714.1 L488 720.6 L477.9 725 L473.5 723.5 L468.5 729.3 L464.1 724.3 L459 729.3 L450.3 728.6 L444.5 724.3 L440.2 732.2 L435.1 731.5 L432.2 727.9 L424.3 727.2 L425.7 723.5 L422.1 720.6 L416.3 717.7 L411.9 711.2 L406.8 710.5 L401.8 706.1 L397.4 698.9 L388.7 693.1 L383.6 688 L380 690.9 L377.8 689.4 L383.6 680.7 L381.4 675.6 L375.6 670.6 L369.8 665.5 L369.1 654.6 L364 649.5 L362.6 643.7 L364.5 637 Z" stroke="#4CAF50"/>
<path d="M503.7 712.6 L506.2 709.8 L508.7 712.6 L506.2 715.4 Z" stroke="#4CAF50" fill="none" stroke-width="1.3"/>
<circle cx="511" cy="717.7" r="0.9" fill="#4CAF50" stroke="none"/>
<path d="M498.6 723.4 L500.8 720.3 L503 723.4 Z" stroke="#4CAF50" fill="#4CAF50" stroke-width="0.9"/>
<path d="M401.3 714.2 L402.5 711.9 L403.7 714.2 Z" stroke="#4CAF50" fill="#4CAF50" stroke-width="0.9"/>
<path d="M386.7 637.4 L386.9 635.92 L387.19 634.45 L387.54 633 L387.96 631.55 L388.43 630.11 L388.95 628.69 L389.5 627.27 L390.07 625.86 L390.67 624.47 L391.3 623.09 L391.98 621.74 L392.71 620.42 L393.5 619.16 L394.39 617.94 L395.36 616.79 L396.42 615.71 L397.57 614.71 L398.78 613.78 L400.04 612.94 L401.36 612.18 L402.72 611.51 L404.1 610.94 L405.52 610.45 L406.95 610.02 L408.4 609.63 L409.87 609.26 L411.36 608.88 L412.86 608.53 L414.35 608.24 L415.85 608.07 L417.32 608.07 L418.77 608.28 L420.2 608.68 L421.61 609.2 L423.03 609.76 L424.46 610.31 L425.91 610.78 L427.37 611.16 L428.85 611.48 L430.32 611.8 L431.78 612.13 L433.21 612.54 L434.61 613.04 L435.97 613.65 L437.3 614.35 L438.59 615.12 L439.86 615.95 L441.11 616.83 L442.33 617.74 L443.53 618.67 L444.71 619.62 L445.86 620.59 L446.98 621.59 L448.07 622.62 L449.12 623.68 L450.13 624.79 L451.1 625.93 L452.03 627.11 L452.92 628.33 L453.76 629.58 L454.56 630.86 L455.32 632.16 L456.04 633.49 L456.72 634.84 L457.34 636.21 L457.91 637.6 L458.43 639 L458.89 640.43 L459.3 641.87 L459.67 643.33 L460 644.8 L460.3 646.27 L460.58 647.75 L460.85 649.24 L461.12 650.72 L461.37 652.21 L461.62 653.69 L461.85 655.18 L462.06 656.67 L462.26 658.16 L462.42 659.65 L462.55 661.15 L462.65 662.65 L462.71 664.15 L462.72 665.66 L462.69 667.18 L462.61 668.69 L462.47 670.21 L462.27 671.72 L462.01 673.22 L461.68 674.7 L461.29 676.16 L460.82 677.59 L460.27 678.98 L459.63 680.34 L458.92 681.64 L458.13 682.91 L457.27 684.14 L456.35 685.33 L455.38 686.49 L454.36 687.62 L453.3 688.72 L452.21 689.8 L451.1 690.86 L449.97 691.88 L448.81 692.86 L447.61 693.78 L446.36 694.62 L445.08 695.38 L443.73 696.03 L442.34 696.56 L440.89 696.98 L439.41 697.3 L437.91 697.52 L436.39 697.65 L434.88 697.7 L433.36 697.68 L431.86 697.58 L430.36 697.42 L428.87 697.2 L427.4 696.92 L425.93 696.59 L424.48 696.21 L423.04 695.79 L421.61 695.33 L420.19 694.82 L418.79 694.26 L417.4 693.67 L416.03 693.03 L414.68 692.35 L413.36 691.63 L412.06 690.85 L410.81 690.03 L409.59 689.15 L408.41 688.22 L407.28 687.24 L406.19 686.21 L405.13 685.14 L404.1 684.04 L403.1 682.91 L402.11 681.77 L401.14 680.61 L400.18 679.44 L399.25 678.26 L398.33 677.07 L397.44 675.85 L396.58 674.62 L395.75 673.37 L394.96 672.09 L394.22 670.79 L393.51 669.47 L392.84 668.12 L392.22 666.75 L391.64 665.36 L391.09 663.95 L390.58 662.54 L390.1 661.11 L389.66 659.67 L389.25 658.23 L388.88 656.78 L388.53 655.32 L388.21 653.85 L387.92 652.37 L387.65 650.89 L387.4 649.4 L387.17 647.91 L386.97 646.41 L386.79 644.9 L386.65 643.39 L386.57 641.89 L386.54 640.38 L386.58 638.89 Z" stroke="#673AB7"/>
<path d="M388 638.9 L387.86 637.41 L387.76 635.91 L387.71 634.42 L387.71 632.92 L387.74 631.41 L387.81 629.91 L387.91 628.4 L388.04 626.9 L388.2 625.39 L388.38 623.89 L388.58 622.39 L388.8 620.89 L389.03 619.4 L389.27 617.91 L389.51 616.42 L389.76 614.94 L390.01 613.47 L390.27 611.99 L390.53 610.51 L390.79 609.02 L391.05 607.53 L391.33 606.04 L391.62 604.55 L391.93 603.06 L392.28 601.59 L392.67 600.13 L393.12 598.7 L393.63 597.29 L394.21 595.92 L394.86 594.59 L395.59 593.3 L396.39 592.04 L397.23 590.8 L398.11 589.57 L399.01 588.35 L399.92 587.12 L400.82 585.89 L401.72 584.66 L402.65 583.46 L403.63 582.31 L404.68 581.25 L405.83 580.3 L407.09 579.48 L408.46 578.82 L409.9 578.33 L411.4 578.01 L412.91 577.89 L414.43 577.96 L415.93 578.21 L417.4 578.62 L418.82 579.18 L420.18 579.86 L421.47 580.65 L422.69 581.53 L423.85 582.49 L424.96 583.51 L426.02 584.58 L427.06 585.68 L428.08 586.8 L429.08 587.92 L430.08 589.06 L431.05 590.2 L432.02 591.35 L432.96 592.52 L433.89 593.69 L434.8 594.89 L435.68 596.1 L436.54 597.33 L437.39 598.57 L438.21 599.83 L439.01 601.1 L439.8 602.38 L440.57 603.67 L441.32 604.98 L442.06 606.29 L442.78 607.61 L443.49 608.93 L444.19 610.26 L444.88 611.6 L445.55 612.94 L446.21 614.29 L446.86 615.64 L447.5 617 L448.14 618.36 L448.76 619.73 L449.38 621.1 L449.98 622.48 L450.58 623.85 L451.17 625.24 L451.75 626.62 L452.32 628.01 L452.88 629.4 L453.44 630.8 L453.99 632.19 L454.54 633.59 L455.1 634.98 L455.67 636.38 L456.26 637.76 L456.86 639.15 L457.47 640.53 L458.08 641.91 L458.68 643.29 L459.26 644.68 L459.82 646.07 L460.34 647.47 L460.81 648.89 L461.23 650.32 L461.61 651.76 L461.94 653.21 L462.23 654.68 L462.5 656.16 L462.76 657.64 L463.01 659.13 L463.26 660.63 L463.52 662.13 L463.8 663.63 L464.08 665.14 L464.35 666.64 L464.58 668.14 L464.76 669.64 L464.87 671.13 L464.89 672.61 L464.81 674.08 L464.61 675.54 L464.3 676.98 L463.88 678.41 L463.37 679.83 L462.78 681.24 L462.11 682.62 L461.37 684 L460.58 685.36 L459.73 686.68 L458.82 687.95 L457.84 689.14 L456.79 690.22 L455.66 691.18 L454.45 692 L453.15 692.65 L451.77 693.13 L450.32 693.49 L448.83 693.74 L447.3 693.93 L445.76 694.08 L444.22 694.23 L442.69 694.39 L441.17 694.55 L439.67 694.7 L438.17 694.81 L436.68 694.88 L435.2 694.88 L433.72 694.8 L432.25 694.63 L430.78 694.38 L429.32 694.05 L427.86 693.67 L426.4 693.24 L424.96 692.78 L423.51 692.3 L422.07 691.82 L420.65 691.31 L419.24 690.78 L417.85 690.21 L416.49 689.58 L415.16 688.9 L413.87 688.15 L412.62 687.32 L411.41 686.43 L410.23 685.48 L409.1 684.47 L408.01 683.42 L406.95 682.34 L405.94 681.21 L404.96 680.07 L404.02 678.89 L403.11 677.69 L402.23 676.47 L401.38 675.23 L400.56 673.98 L399.76 672.71 L398.97 671.42 L398.21 670.13 L397.46 668.82 L396.73 667.5 L396.03 666.17 L395.35 664.82 L394.7 663.47 L394.08 662.1 L393.5 660.72 L392.96 659.32 L392.45 657.91 L391.97 656.48 L391.53 655.05 L391.12 653.61 L390.73 652.15 L390.35 650.69 L390 649.23 L389.66 647.76 L389.33 646.29 L389.01 644.82 L388.71 643.34 L388.43 641.87 L388.2 640.39 Z" stroke="#FFC107"/>
</g>
<g stroke="#000" stroke-opacity="0.76" stroke-width="1.0" stroke-dasharray="5.95 5.0" fill="none">
<path d="M305.85 649.5 L560.5 649.5"/>
<path d="M433.15 777 L433.15 522.4"/>
</g>
<circle cx="418.5" cy="643.4" r="2.35" fill="#1E88E5"/>
<circle cx="422.8" cy="643.7" r="2.35" fill="#D32F2F"/>
<circle cx="428.6" cy="646.3" r="2.35" fill="#4CAF50"/>
<circle cx="424.7" cy="653.4" r="2.35" fill="#673AB7"/>
<circle cx="420.6" cy="651.3" r="2.35" fill="#FFC107"/>
<g stroke="#000" stroke-width="0.62" fill="none">
<path d="M114.71 267.45 v-4 M114.71 12.75 v4"/>
<path d="M178.43 267.45 v-4 M178.43 12.75 v4"/>
<path d="M242.14 267.45 v-4 M242.14 12.75 v4"/>
<path d="M51 76.42 h4 M305.85 76.42 h-4"/>
<path d="M51 140.1 h4 M305.85 140.1 h-4"/>
<path d="M51 203.77 h4 M305.85 203.77 h-4"/>
<path d="M369.51 522.4 v-4 M369.51 267.45 v4"/>
<path d="M433.18 522.4 v-4 M433.18 267.45 v4"/>
<path d="M496.84 522.4 v-4 M496.84 267.45 v4"/>
<path d="M305.85 331.19 h4 M560.5 331.19 h-4"/>
<path d="M305.85 394.92 h4 M560.5 394.92 h-4"/>
<path d="M305.85 458.66 h4 M560.5 458.66 h-4"/>
<path d="M624.16 777 v-4 M624.16 522.4 v4"/>
<path d="M687.83 777 v-4 M687.83 522.4 v4"/>
<path d="M751.49 777 v-4 M751.49 522.4 v4"/>
<path d="M560.5 586.05 h4 M815.15 586.05 h-4"/>
<path d="M560.5 649.7 h4 M815.15 649.7 h-4"/>
<path d="M560.5 713.35 h4 M815.15 713.35 h-4"/>
<path d="M93.5 522.4 v-4 M93.5 267.45 v4"/>
<path d="M188.95 522.4 v-4 M188.95 267.45 v4"/>
<path d="M284.4 522.4 v-4 M284.4 267.45 v4"/>
<path d="M51 473.7 h4 M305.85 473.7 h-4"/>
<path d="M51 395 h4 M305.85 395 h-4"/>
<path d="M51 316.3 h4 M305.85 316.3 h-4"/>
<path d="M93.5 777 v-4 M93.5 522.4 v4"/>
<path d="M188.95 777 v-4 M188.95 522.4 v4"/>
<path d="M284.4 777 v-4 M284.4 522.4 v4"/>
<path d="M51 728.2 h4 M305.85 728.2 h-4"/>
<path d="M51 649.5 h4 M305.85 649.5 h-4"/>
<path d="M51 570.8 h4 M305.85 570.8 h-4"/>
<path d="M354.45 777 v-4 M354.45 522.4 v4"/>
<path d="M433.15 777 v-4 M433.15 522.4 v4"/>
<path d="M511.85 777 v-4 M511.85 522.4 v4"/>
<path d="M305.85 728.2 h4 M560.5 728.2 h-4"/>
<path d="M305.85 649.5 h4 M560.5 649.5 h-4"/>
<path d="M305.85 570.8 h4 M560.5 570.8 h-4"/>
</g>
<g stroke="#000" fill="none" stroke-linecap="square">
<path d="M51 12.75 L51 777" stroke-width="1.0"/>
<path d="M51 777 L815.15 777" stroke-width="1.0"/>
<path d="M51 12.75 L305.85 12.75" stroke-width="1.0"/>
<path d="M815.15 522.4 L815.15 777" stroke-width="1.0"/>
<path d="M305.85 12.75 L305.85 267.45" stroke-width="1.0"/>
<path d="M305.85 267.45 L305.85 777" stroke-width="1.25"/>
<path d="M560.5 267.45 L560.5 522.4" stroke-width="1.0"/>
<path d="M560.5 522.4 L560.5 777" stroke-width="1.25"/>
<path d="M51 267.45 L305.85 267.45" stroke-width="1.25"/>
<path d="M305.85 267.45 L560.5 267.45" stroke-width="1.0"/>
<path d="M51 522.4 L560.5 522.4" stroke-width="1.25"/>
<path d="M560.5 522.4 L815.15 522.4" stroke-width="1.0"/>
</g>
<text transform="translate(93.9 790.6) scale(1.06 1)" text-anchor="middle" font-family='"Liberation Sans", sans-serif' font-size="13.4" fill="#000">0.08</text>
<text transform="translate(189.35 790.6) scale(1.06 1)" text-anchor="middle" font-family='"Liberation Sans", sans-serif' font-size="13.4" fill="#000">0.16</text>
<text transform="translate(284.8 790.6) scale(1.06 1)" text-anchor="middle" font-family='"Liberation Sans", sans-serif' font-size="13.4" fill="#000">0.24</text>
<text transform="translate(354.75 790.6) scale(1.06 1)" text-anchor="middle" font-family='"Liberation Sans", sans-serif' font-size="13.4" fill="#000">0.8</text>
<text transform="translate(433.45 790.6) scale(1.06 1)" text-anchor="middle" font-family='"Liberation Sans", sans-serif' font-size="13.4" fill="#000">1.0</text>
<text transform="translate(512.15 790.6) scale(1.06 1)" text-anchor="middle" font-family='"Liberation Sans", sans-serif' font-size="13.4" fill="#000">1.2</text>
<text transform="translate(560.8 790.6) scale(1.06 1)" text-anchor="middle" font-family='"Liberation Sans", sans-serif' font-size="13.4" fill="#000">0.6</text>
<text transform="translate(624.46 790.6) scale(1.06 1)" text-anchor="middle" font-family='"Liberation Sans", sans-serif' font-size="13.4" fill="#000">0.8</text>
<text transform="translate(688.12 790.6) scale(1.06 1)" text-anchor="middle" font-family='"Liberation Sans", sans-serif' font-size="13.4" fill="#000">1.0</text>
<text transform="translate(751.79 790.6) scale(1.06 1)" text-anchor="middle" font-family='"Liberation Sans", sans-serif' font-size="13.4" fill="#000">1.2</text>
<text transform="translate(815.45 790.6) scale(1.06 1)" text-anchor="middle" font-family='"Liberation Sans", sans-serif' font-size="13.4" fill="#000">1.4</text>
<text transform="translate(49.1 477.8) scale(1.06 1)" text-anchor="end" font-family='"Liberation Sans", sans-serif' font-size="13.4" fill="#000">0.8</text>
<text transform="translate(49.1 399.1) scale(1.06 1)" text-anchor="end" font-family='"Liberation Sans", sans-serif' font-size="13.4" fill="#000">1.0</text>
<text transform="translate(49.1 320.4) scale(1.06 1)" text-anchor="end" font-family='"Liberation Sans", sans-serif' font-size="13.4" fill="#000">1.2</text>
<text transform="translate(49.1 731.7) scale(1.06 1)" text-anchor="end" font-family='"Liberation Sans", sans-serif' font-size="13.4" fill="#000">0.8</text>
<text transform="translate(49.1 653) scale(1.06 1)" text-anchor="end" font-family='"Liberation Sans", sans-serif' font-size="13.4" fill="#000">1.0</text>
<text transform="translate(49.1 574.3) scale(1.06 1)" text-anchor="end" font-family='"Liberation Sans", sans-serif' font-size="13.4" fill="#000">1.2</text>
<g transform="translate(156.4 813.9)"><text font-family='"Liberation Serif", serif' font-size="19.0" fill="#000" x="-0.6" y="0" textLength="13.2" lengthAdjust="spacingAndGlyphs">&#937;</text><text font-family='"Liberation Serif", serif' font-style="italic" font-size="13.3" fill="#000" x="12.8" y="5.0">c</text><text font-family='"Liberation Serif", serif' font-style="italic" font-size="19.0" fill="#000" x="20.4" y="0" textLength="11.0" lengthAdjust="spacingAndGlyphs">h</text><text font-family='"Liberation Serif", serif' font-size="15.100000000000001" fill="#000" x="31.3" y="-8.0">2</text></g>
<g transform="translate(421.4 810.0)"><text font-family='"Liberation Serif", serif' font-style="italic" font-size="18.4" fill="#000" x="-0.3" y="0" textLength="11.2" lengthAdjust="spacingAndGlyphs">&#945;</text><path d="M14.4 3.4 H22.4 M18.4 3.4 V-4.7" stroke="#000" stroke-width="0.85" fill="none"/></g>
<g transform="translate(678.3 808.1)"><text font-family='"Liberation Serif", serif' font-style="italic" font-size="18.4" fill="#000" x="-0.3" y="0" textLength="11.2" lengthAdjust="spacingAndGlyphs">&#945;</text><path d="M15.2 -4.3 V6.7 M18.3 -4.3 V6.7" stroke="#000" stroke-width="0.85" fill="none"/></g>
<g transform="translate(36.7 162.4) rotate(-90)"><text font-family='"Liberation Serif", serif' font-size="19.0" fill="#000" x="-0.6" y="0" textLength="13.2" lengthAdjust="spacingAndGlyphs">&#937;</text><text font-family='"Liberation Serif", serif' font-style="italic" font-size="13.3" fill="#000" x="12.8" y="5.0">c</text><text font-family='"Liberation Serif", serif' font-style="italic" font-size="19.0" fill="#000" x="20.4" y="0" textLength="11.0" lengthAdjust="spacingAndGlyphs">h</text><text font-family='"Liberation Serif", serif' font-size="15.100000000000001" fill="#000" x="31.3" y="-8.0">2</text></g>
<g transform="translate(19.8 406.9) rotate(-90)"><text font-family='"Liberation Serif", serif' font-style="italic" font-size="18.4" fill="#000" x="-0.3" y="0" textLength="11.2" lengthAdjust="spacingAndGlyphs">&#945;</text><path d="M14.4 3.4 H22.4 M18.4 3.4 V-4.7" stroke="#000" stroke-width="0.85" fill="none"/></g>
<g transform="translate(17.2 659.3) rotate(-90)"><text font-family='"Liberation Serif", serif' font-style="italic" font-size="18.4" fill="#000" x="-0.3" y="0" textLength="11.2" lengthAdjust="spacingAndGlyphs">&#945;</text><path d="M15.2 -4.3 V6.7 M18.3 -4.3 V6.7" stroke="#000" stroke-width="0.85" fill="none"/></g>
<g stroke-width="1.25" fill="none">
<path d="M377.3 93.7 H399.9" stroke="#1E88E5"/>
<path d="M377.3 116.45 H399.9" stroke="#D32F2F"/>
<path d="M377.3 139.2 H399.9" stroke="#4CAF50"/>
<path d="M377.3 161.95 H399.9" stroke="#673AB7"/>
<path d="M377.3 184.7 H399.9" stroke="#FFC107"/>
</g>
<text font-family='"Liberation Serif", serif' font-size="15.6" fill="#000" x="416.6" y="98.7" textLength="19.2" lengthAdjust="spacingAndGlyphs">0.2</text><text font-family='"Liberation Serif", serif' font-size="18.2" fill="#000" x="439.0" y="100" textLength="11.6" lengthAdjust="spacingAndGlyphs">&lt;</text><text font-family='"Liberation Serif", serif' font-style="italic" font-size="15.6" fill="#000" x="451.0" y="98.7" textLength="6.7" lengthAdjust="spacingAndGlyphs">z</text><text font-family='"Liberation Serif", serif' font-size="18.2" fill="#000" x="461.0" y="100" textLength="11.6" lengthAdjust="spacingAndGlyphs">&lt;</text><text font-family='"Liberation Serif", serif' font-size="15.6" fill="#000" x="472.5" y="98.7" textLength="19.4" lengthAdjust="spacingAndGlyphs">0.6</text>
<text font-family='"Liberation Serif", serif' font-size="15.6" fill="#000" x="416.6" y="121.45" textLength="19.2" lengthAdjust="spacingAndGlyphs">0.4</text><text font-family='"Liberation Serif", serif' font-size="18.2" fill="#000" x="439.0" y="122.75" textLength="11.6" lengthAdjust="spacingAndGlyphs">&lt;</text><text font-family='"Liberation Serif", serif' font-style="italic" font-size="15.6" fill="#000" x="451.0" y="121.45" textLength="6.7" lengthAdjust="spacingAndGlyphs">z</text><text font-family='"Liberation Serif", serif' font-size="18.2" fill="#000" x="461.0" y="122.75" textLength="11.6" lengthAdjust="spacingAndGlyphs">&lt;</text><text font-family='"Liberation Serif", serif' font-size="15.6" fill="#000" x="472.5" y="121.45" textLength="19.4" lengthAdjust="spacingAndGlyphs">0.8</text>
<text font-family='"Liberation Serif", serif' font-size="15.6" fill="#000" x="416.6" y="144.2" textLength="19.2" lengthAdjust="spacingAndGlyphs">0.6</text><text font-family='"Liberation Serif", serif' font-size="18.2" fill="#000" x="439.0" y="145.5" textLength="11.6" lengthAdjust="spacingAndGlyphs">&lt;</text><text font-family='"Liberation Serif", serif' font-style="italic" font-size="15.6" fill="#000" x="451.0" y="144.2" textLength="6.7" lengthAdjust="spacingAndGlyphs">z</text><text font-family='"Liberation Serif", serif' font-size="18.2" fill="#000" x="461.0" y="145.5" textLength="11.6" lengthAdjust="spacingAndGlyphs">&lt;</text><text font-family='"Liberation Serif", serif' font-size="15.6" fill="#000" x="472.5" y="144.2" textLength="19.4" lengthAdjust="spacingAndGlyphs">1.0</text>
<text font-family='"Liberation Serif", serif' font-size="15.6" fill="#000" x="416.6" y="166.95" textLength="66.6" lengthAdjust="spacingAndGlyphs">Combined</text>
<text font-family='"Liberation Serif", serif' font-size="15.6" fill="#000" x="416.6" y="189.7" textLength="53.0" lengthAdjust="spacingAndGlyphs">All data</text>
</svg>
</body>
</html>
